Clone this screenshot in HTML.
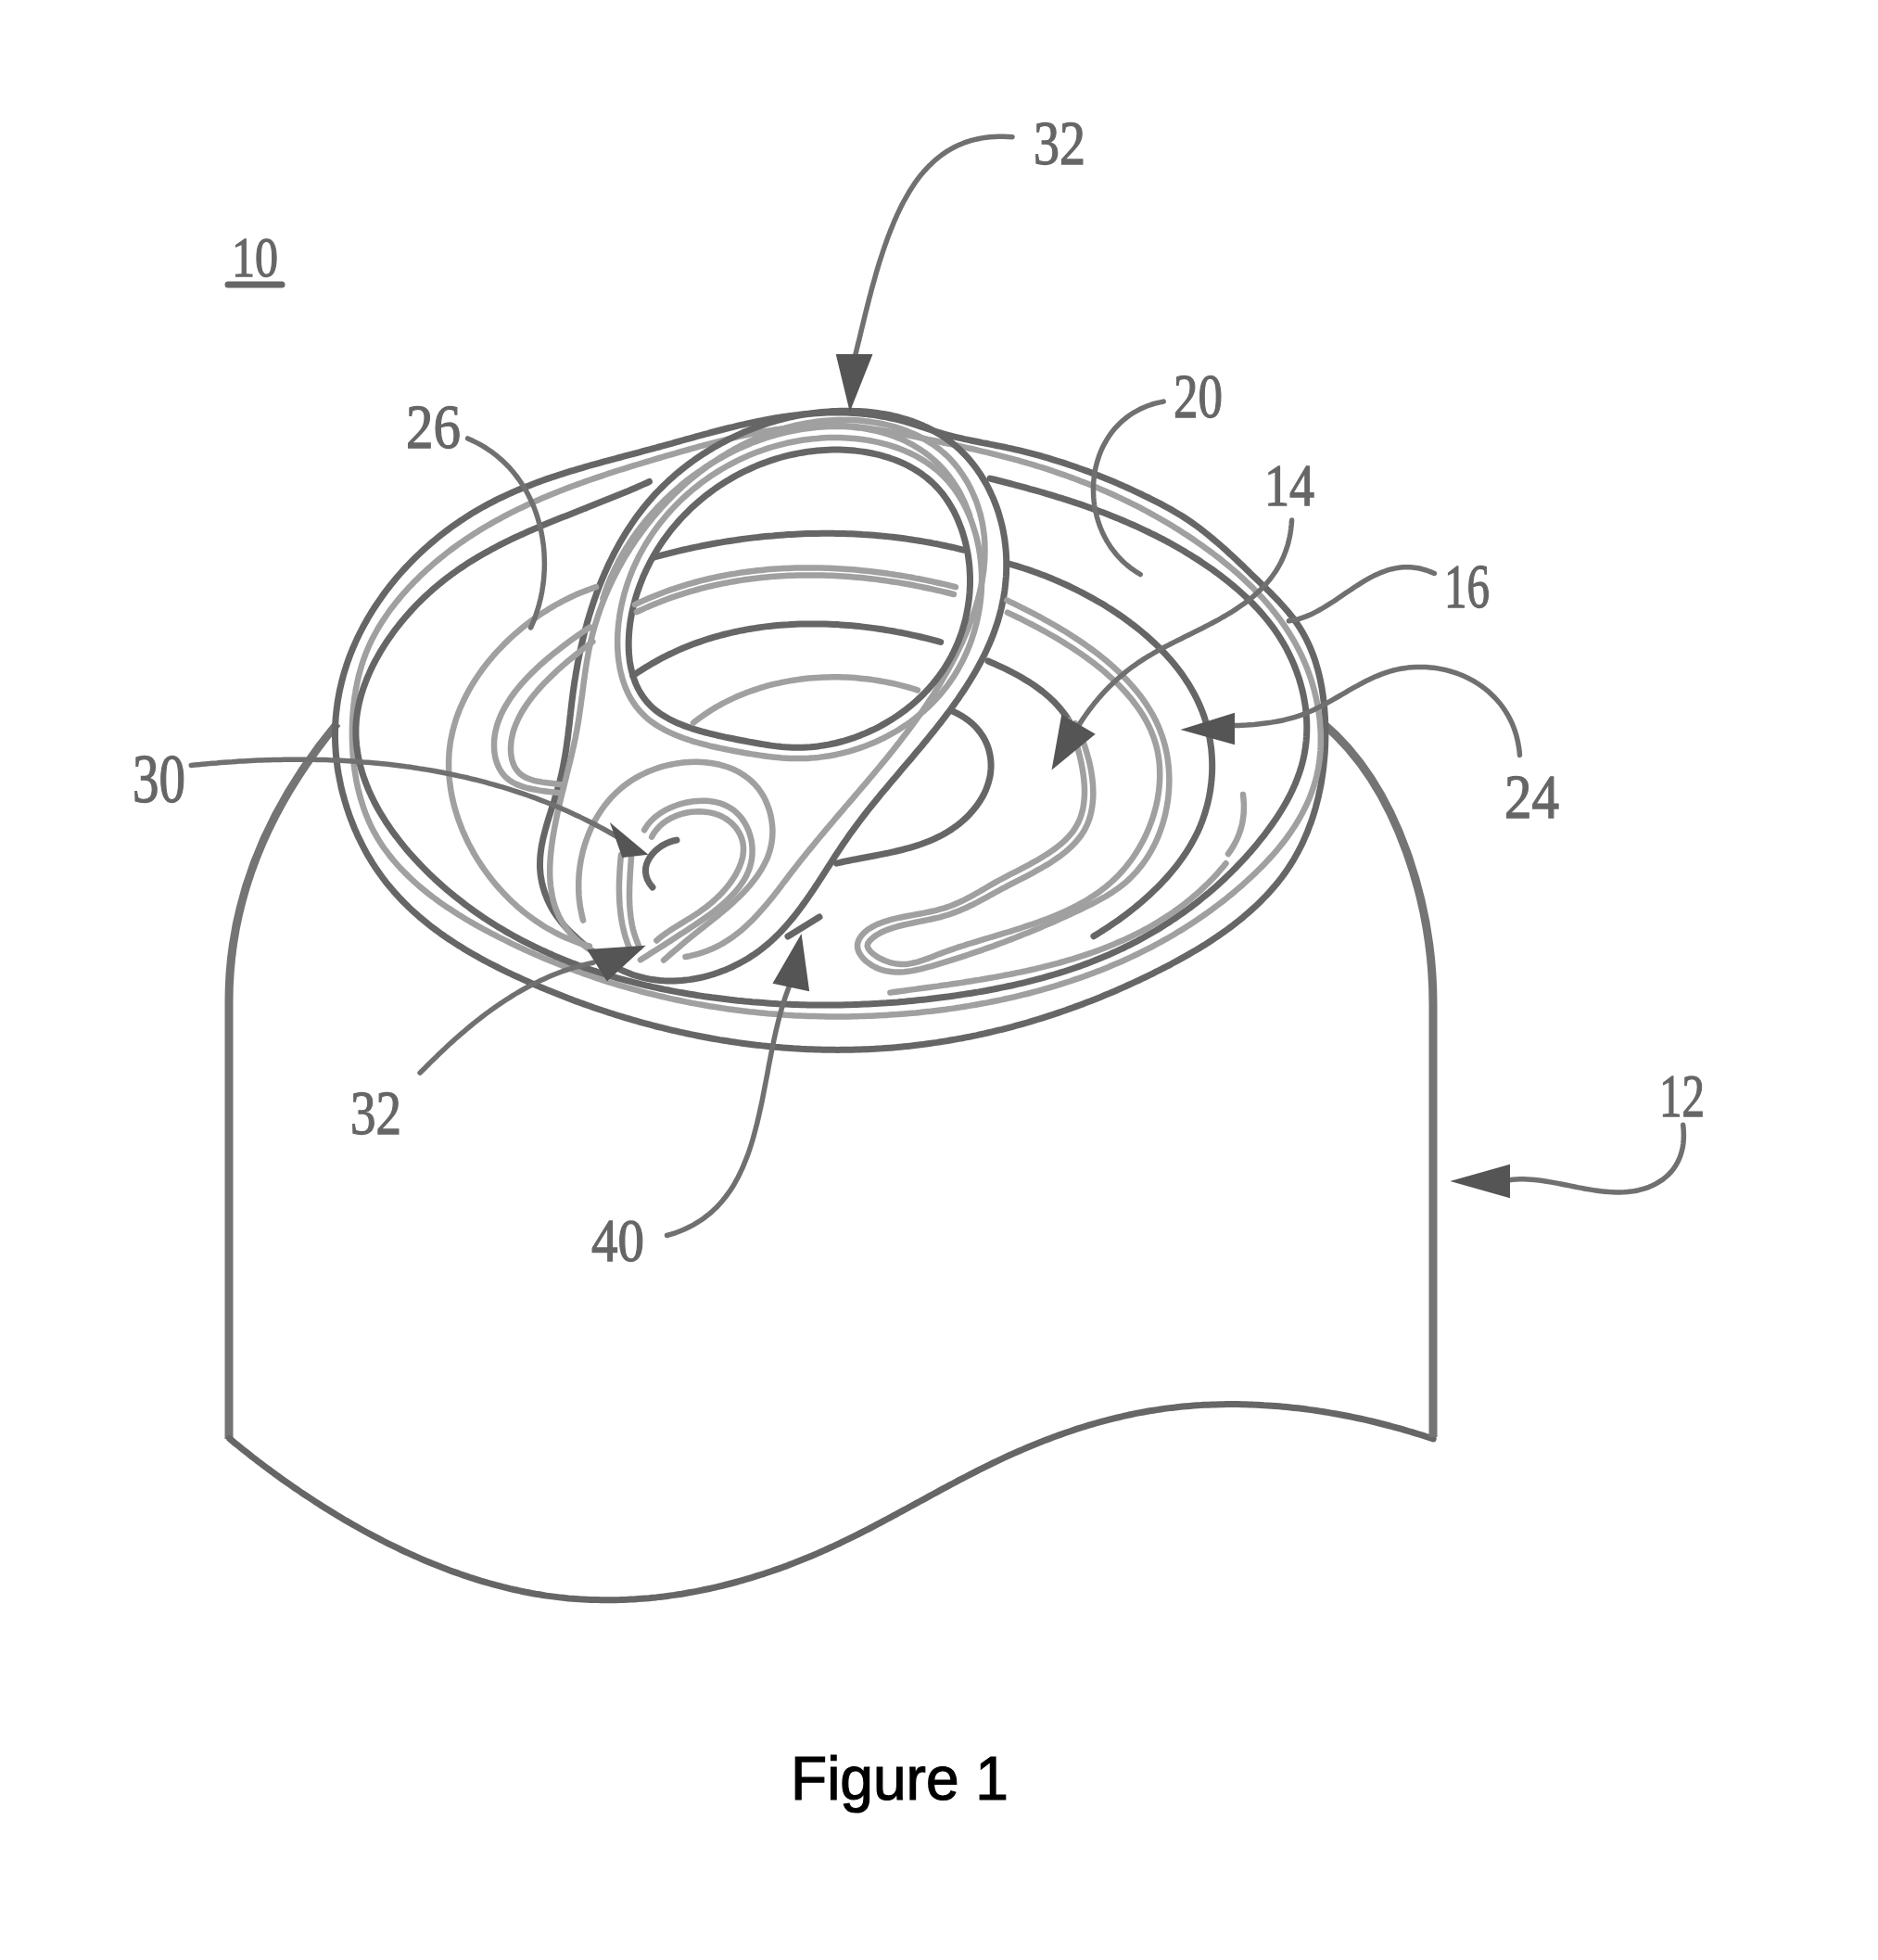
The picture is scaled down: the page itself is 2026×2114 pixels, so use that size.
<!DOCTYPE html>
<html><head><meta charset="utf-8"><style>
html,body{margin:0;padding:0;background:#fff;width:2026px;height:2114px;overflow:hidden}
svg{display:block;position:absolute;left:0;top:0}
.dk{fill:none;stroke:#666666;stroke-width:7;stroke-linecap:round;stroke-linejoin:round}
.lt{fill:none;stroke:#a0a0a0;stroke-width:6.5;stroke-linecap:round;stroke-linejoin:round}
.bd{fill:none;stroke:#747474;stroke-width:9;stroke-linecap:butt;stroke-linejoin:miter}
.ld{fill:none;stroke:#707070;stroke-width:5.5;stroke-linecap:round;stroke-linejoin:round}
.ar{fill:#555555;stroke:#555555;stroke-width:2}
.lb{font-family:"Liberation Serif",serif;font-weight:normal;fill:#666666;stroke:#666666;stroke-width:1.3}
.fig{position:absolute;font-family:"Liberation Sans",sans-serif;color:#000;white-space:nowrap}
</style></head><body>
<svg width="2026" height="2114" viewBox="0 0 2026 2114">
<path class="bd" d="M364,780 C296,862 247,960 247,1080 L247,1552"/>
<path class="dk" d="M247.8,1551.8 L250.8,1554.3 L253.7,1556.7 L256.7,1559.1 L259.7,1561.5 L262.8,1563.9 L265.8,1566.3 L268.9,1568.8 L271.9,1571.2 L275.0,1573.5 L278.1,1575.9 L281.2,1578.3 L284.4,1580.7 L287.5,1583.0 L290.7,1585.4 L293.9,1587.8 L297.1,1590.1 L300.3,1592.4 L303.6,1594.8 L306.8,1597.1 L310.1,1599.4 L313.4,1601.7 L316.6,1604.0 L320.0,1606.2 L323.3,1608.5 L326.6,1610.8 L330.0,1613.0 L333.3,1615.2 L336.7,1617.4 L340.1,1619.7 L343.5,1621.8 L346.9,1624.0 L350.4,1626.2 L353.8,1628.3 L357.3,1630.5 L360.7,1632.6 L364.2,1634.7 L367.7,1636.8 L371.2,1638.9 L374.7,1640.9 L378.3,1643.0 L381.8,1645.0 L385.4,1647.0 L388.9,1649.0 L392.5,1651.0 L396.1,1653.0 L399.7,1654.9 L403.3,1656.8 L406.9,1658.7 L410.6,1660.6 L414.2,1662.5 L417.8,1664.3 L421.5,1666.1 L425.2,1667.9 L428.9,1669.7 L432.5,1671.5 L436.2,1673.2 L439.9,1674.9 L443.7,1676.6 L447.4,1678.3 L451.1,1679.9 L454.9,1681.6 L458.6,1683.2 L462.4,1684.7 L466.1,1686.3 L469.9,1687.8 L473.7,1689.3 L477.5,1690.8 L481.3,1692.2 L485.1,1693.7 L488.9,1695.1 L492.7,1696.4 L496.5,1697.8 L500.3,1699.1 L504.2,1700.4 L508.0,1701.7 L511.8,1702.9 L515.7,1704.1 L519.6,1705.3 L523.4,1706.4 L527.3,1707.5 L531.2,1708.6 L535.0,1709.7 L538.9,1710.7 L542.8,1711.7 L546.7,1712.6 L550.6,1713.6 L554.5,1714.5 L558.4,1715.3 L562.3,1716.2 L566.2,1717.0 L570.1,1717.7 L574.0,1718.5 L577.9,1719.2 L581.9,1719.8 L585.8,1720.5 L589.7,1721.1 L593.7,1721.6 L597.6,1722.1 L601.5,1722.6 L605.5,1723.1 L609.4,1723.5 L613.3,1723.9 L617.3,1724.2 L621.2,1724.5 L625.2,1724.8 L629.1,1725.0 L633.1,1725.2 L637.0,1725.4 L640.9,1725.5 L644.9,1725.6 L648.8,1725.7 L652.8,1725.8 L656.7,1725.8 L660.7,1725.7 L664.6,1725.7 L668.6,1725.6 L672.5,1725.4 L676.5,1725.3 L680.4,1725.1 L684.4,1724.9 L688.3,1724.6 L692.3,1724.3 L696.2,1724.0 L700.1,1723.7 L704.1,1723.3 L708.0,1722.9 L711.9,1722.4 L715.9,1722.0 L719.8,1721.5 L723.7,1720.9 L727.7,1720.4 L731.6,1719.8 L735.5,1719.2 L739.4,1718.5 L743.3,1717.8 L747.2,1717.1 L751.1,1716.4 L755.0,1715.6 L758.9,1714.8 L762.8,1714.0 L766.7,1713.2 L770.6,1712.3 L774.5,1711.4 L778.4,1710.5 L782.2,1709.5 L786.1,1708.5 L790.0,1707.5 L793.8,1706.5 L797.7,1705.4 L801.5,1704.3 L805.4,1703.2 L809.2,1702.1 L813.1,1700.9 L816.9,1699.7 L820.7,1698.5 L824.5,1697.3 L828.3,1696.0 L832.1,1694.7 L835.9,1693.4 L839.7,1692.1 L843.5,1690.7 L847.3,1689.4 L851.0,1687.9 L854.8,1686.5 L858.5,1685.1 L862.3,1683.6 L866.0,1682.1 L869.7,1680.6 L873.5,1679.0 L877.2,1677.5 L880.9,1675.9 L884.6,1674.3 L888.3,1672.6 L891.9,1671.0 L895.6,1669.3 L899.3,1667.6 L902.9,1665.9 L906.6,1664.2 L910.2,1662.4 L913.8,1660.7 L917.5,1658.9 L921.1,1657.1 L924.7,1655.3 L928.3,1653.5 L931.9,1651.7 L935.5,1649.8 L939.1,1648.0 L942.7,1646.1 L946.3,1644.2 L949.8,1642.3 L953.4,1640.4 L957.0,1638.5 L960.6,1636.6 L964.1,1634.7 L967.7,1632.8 L971.2,1630.8 L974.8,1628.9 L978.4,1627.0 L981.9,1625.0 L985.5,1623.1 L989.0,1621.2 L992.6,1619.2 L996.1,1617.3 L999.7,1615.4 L1003.2,1613.4 L1006.8,1611.5 L1010.3,1609.6 L1013.9,1607.6 L1017.4,1605.7 L1021.0,1603.8 L1024.5,1601.9 L1028.1,1600.0 L1031.7,1598.1 L1035.2,1596.2 L1038.8,1594.4 L1042.4,1592.5 L1046.0,1590.6 L1049.5,1588.8 L1053.1,1587.0 L1056.7,1585.2 L1060.3,1583.4 L1063.9,1581.6 L1067.5,1579.8 L1071.1,1578.0 L1074.7,1576.3 L1078.4,1574.6 L1082.0,1572.9 L1085.6,1571.2 L1089.3,1569.5 L1092.9,1567.9 L1096.6,1566.3 L1100.2,1564.7 L1103.9,1563.1 L1107.6,1561.5 L1111.2,1560.0 L1114.9,1558.5 L1118.6,1557.0 L1122.3,1555.5 L1126.0,1554.0 L1129.8,1552.6 L1133.5,1551.2 L1137.2,1549.8 L1140.9,1548.4 L1144.7,1547.1 L1148.4,1545.8 L1152.2,1544.5 L1155.9,1543.2 L1159.7,1541.9 L1163.5,1540.7 L1167.3,1539.5 L1171.0,1538.3 L1174.8,1537.2 L1178.6,1536.1 L1182.4,1535.0 L1186.3,1533.9 L1190.1,1532.9 L1193.9,1531.9 L1197.7,1530.9 L1201.6,1529.9 L1205.4,1529.0 L1209.3,1528.1 L1213.1,1527.2 L1217.0,1526.3 L1220.9,1525.5 L1224.7,1524.7 L1228.6,1523.9 L1232.5,1523.2 L1236.4,1522.5 L1240.3,1521.8 L1244.2,1521.2 L1248.2,1520.6 L1252.1,1520.0 L1256.0,1519.4 L1259.9,1518.9 L1263.9,1518.4 L1267.8,1518.0 L1271.8,1517.5 L1275.8,1517.1 L1279.7,1516.7 L1283.7,1516.4 L1287.7,1516.1 L1291.6,1515.8 L1295.6,1515.6 L1299.6,1515.3 L1303.6,1515.2 L1307.6,1515.0 L1311.6,1514.9 L1315.6,1514.7 L1319.6,1514.7 L1323.6,1514.6 L1327.6,1514.6 L1331.7,1514.6 L1335.7,1514.6 L1339.7,1514.7 L1343.7,1514.8 L1347.7,1514.9 L1351.8,1515.1 L1355.8,1515.2 L1359.8,1515.4 L1363.8,1515.7 L1367.9,1515.9 L1371.9,1516.2 L1375.9,1516.5 L1379.9,1516.8 L1384.0,1517.2 L1388.0,1517.6 L1392.0,1518.0 L1396.1,1518.4 L1400.1,1518.8 L1404.1,1519.3 L1408.1,1519.8 L1412.1,1520.4 L1416.2,1520.9 L1420.2,1521.5 L1424.2,1522.1 L1428.2,1522.7 L1432.2,1523.4 L1436.2,1524.1 L1440.2,1524.8 L1444.2,1525.5 L1448.2,1526.2 L1452.2,1527.0 L1456.2,1527.8 L1460.2,1528.6 L1464.2,1529.5 L1468.1,1530.3 L1472.1,1531.2 L1476.1,1532.1 L1480.0,1533.0 L1484.0,1534.0 L1487.9,1535.0 L1491.8,1536.0 L1495.8,1537.0 L1499.7,1538.0 L1503.6,1539.1 L1507.5,1540.1 L1511.4,1541.2 L1515.3,1542.3 L1519.2,1543.5 L1523.1,1544.6 L1527.0,1545.8 L1530.9,1547.0 L1534.7,1548.2 L1538.6,1549.5 L1542.4,1550.7 L1546.2,1552.0"/>
<path class="bd" d="M1427,780 C1510,850 1546,980 1546,1083 L1546,1550"/>
<path class="dk" d="M361.7,782.9 L361.6,786.9 L361.5,790.9 L361.5,795.0 L361.6,799.0 L361.7,803.0 L362.0,807.1 L362.2,811.1 L362.6,815.2 L363.0,819.2 L363.5,823.2 L364.0,827.3 L364.6,831.3 L365.3,835.4 L366.1,839.4 L366.9,843.4 L367.7,847.4 L368.6,851.4 L369.6,855.4 L370.7,859.3 L371.8,863.3 L373.0,867.2 L374.2,871.1 L375.5,875.0 L376.8,878.9 L378.2,882.7 L379.7,886.6 L381.2,890.4 L382.7,894.1 L384.4,897.9 L386.0,901.6 L387.8,905.3 L389.6,908.9 L391.4,912.5 L393.3,916.1 L395.2,919.7 L397.2,923.2 L399.3,926.6 L401.4,930.1 L403.5,933.4 L405.7,936.8 L408.0,940.1 L410.3,943.3 L412.6,946.5 L415.0,949.7 L417.4,952.8 L419.9,955.8 L422.5,958.8 L425.0,961.8 L427.6,964.7 L430.3,967.6 L433.0,970.5 L435.7,973.3 L438.5,976.0 L441.3,978.8 L444.2,981.5 L447.1,984.1 L450.0,986.7 L452.9,989.3 L455.9,991.8 L459.0,994.3 L462.0,996.8 L465.1,999.2 L468.3,1001.6 L471.4,1003.9 L474.6,1006.3 L477.8,1008.5 L481.1,1010.8 L484.3,1013.0 L487.6,1015.2 L491.0,1017.4 L494.3,1019.5 L497.7,1021.6 L501.1,1023.7 L504.5,1025.7 L507.9,1027.8 L511.4,1029.8 L514.9,1031.7 L518.4,1033.7 L521.9,1035.6 L525.5,1037.5 L529.0,1039.4 L532.6,1041.2 L536.2,1043.0 L539.8,1044.8 L543.4,1046.6 L547.0,1048.4 L550.7,1050.1 L554.3,1051.8 L558.0,1053.5 L561.6,1055.2 L565.3,1056.9 L569.0,1058.5 L572.7,1060.2 L576.4,1061.8 L580.1,1063.4 L583.9,1065.0 L587.6,1066.5 L591.3,1068.1 L595.0,1069.6 L598.8,1071.1 L602.5,1072.6 L606.3,1074.1 L610.1,1075.6 L613.8,1077.0 L617.6,1078.4 L621.4,1079.9 L625.2,1081.3 L629.0,1082.6 L632.8,1084.0 L636.6,1085.3 L640.4,1086.7 L644.2,1088.0 L648.1,1089.3 L651.9,1090.5 L655.7,1091.8 L659.6,1093.0 L663.4,1094.3 L667.3,1095.5 L671.1,1096.6 L675.0,1097.8 L678.8,1098.9 L682.7,1100.1 L686.6,1101.2 L690.5,1102.3 L694.3,1103.4 L698.2,1104.4 L702.1,1105.4 L706.0,1106.5 L709.9,1107.5 L713.8,1108.4 L717.7,1109.4 L721.6,1110.4 L725.5,1111.3 L729.5,1112.2 L733.4,1113.1 L737.3,1113.9 L741.2,1114.8 L745.2,1115.6 L749.1,1116.4 L753.0,1117.2 L757.0,1118.0 L760.9,1118.7 L764.9,1119.5 L768.8,1120.2 L772.7,1120.9 L776.7,1121.6 L780.7,1122.2 L784.6,1122.8 L788.6,1123.5 L792.5,1124.0 L796.5,1124.6 L800.5,1125.2 L804.4,1125.7 L808.4,1126.2 L812.4,1126.7 L816.3,1127.2 L820.3,1127.6 L824.3,1128.1 L828.2,1128.5 L832.2,1128.9 L836.2,1129.3 L840.2,1129.6 L844.1,1129.9 L848.1,1130.2 L852.1,1130.5 L856.1,1130.8 L860.1,1131.0 L864.0,1131.3 L868.0,1131.5 L872.0,1131.7 L876.0,1131.8 L880.0,1132.0 L883.9,1132.1 L887.9,1132.2 L891.9,1132.3 L895.9,1132.3 L899.9,1132.3 L903.8,1132.4 L907.8,1132.3 L911.8,1132.3 L915.8,1132.3 L919.7,1132.2 L923.7,1132.1 L927.7,1132.0 L931.7,1131.8 L935.6,1131.7 L939.6,1131.5 L943.6,1131.3 L947.5,1131.0 L951.5,1130.8 L955.5,1130.5 L959.4,1130.2 L963.4,1129.9 L967.3,1129.6 L971.3,1129.2 L975.2,1128.8 L979.2,1128.4 L983.1,1128.0 L987.1,1127.5 L991.0,1127.0 L995.0,1126.6 L998.9,1126.0 L1002.8,1125.5 L1006.8,1124.9 L1010.7,1124.4 L1014.6,1123.8 L1018.6,1123.1 L1022.5,1122.5 L1026.4,1121.8 L1030.3,1121.1 L1034.2,1120.4 L1038.2,1119.7 L1042.1,1118.9 L1046.0,1118.2 L1049.9,1117.4 L1053.8,1116.6 L1057.7,1115.7 L1061.6,1114.9 L1065.4,1114.0 L1069.3,1113.1 L1073.2,1112.2 L1077.1,1111.2 L1081.0,1110.3 L1084.8,1109.3 L1088.7,1108.3 L1092.6,1107.3 L1096.4,1106.2 L1100.3,1105.2 L1104.1,1104.1 L1108.0,1103.0 L1111.8,1101.8 L1115.7,1100.7 L1119.5,1099.5 L1123.3,1098.3 L1127.2,1097.1 L1131.0,1095.9 L1134.8,1094.7 L1138.6,1093.4 L1142.4,1092.1 L1146.3,1090.8 L1150.1,1089.5 L1153.8,1088.1 L1157.6,1086.8 L1161.4,1085.4 L1165.2,1084.0 L1169.0,1082.6 L1172.8,1081.1 L1176.5,1079.7 L1180.3,1078.2 L1184.1,1076.7 L1187.8,1075.2 L1191.6,1073.6 L1195.3,1072.1 L1199.0,1070.5 L1202.8,1068.9 L1206.5,1067.3 L1210.2,1065.6 L1213.9,1064.0 L1217.6,1062.3 L1221.3,1060.6 L1225.0,1058.9 L1228.7,1057.2 L1232.4,1055.4 L1236.1,1053.7 L1239.8,1051.9 L1243.5,1050.1 L1247.1,1048.2 L1250.8,1046.4 L1254.4,1044.5 L1258.1,1042.7 L1261.7,1040.8 L1265.3,1038.8 L1268.9,1036.9 L1272.5,1034.9 L1276.1,1032.9 L1279.7,1030.9 L1283.2,1028.9 L1286.7,1026.8 L1290.3,1024.8 L1293.7,1022.7 L1297.2,1020.5 L1300.7,1018.4 L1304.1,1016.2 L1307.5,1014.0 L1310.9,1011.7 L1314.2,1009.5 L1317.5,1007.2 L1320.8,1004.8 L1324.1,1002.5 L1327.3,1000.1 L1330.5,997.7 L1333.6,995.2 L1336.8,992.8 L1339.9,990.3 L1342.9,987.7 L1345.9,985.1 L1348.9,982.5 L1351.8,979.9 L1354.7,977.2 L1357.6,974.5 L1360.4,971.7 L1363.1,968.9 L1365.9,966.1 L1368.5,963.3 L1371.1,960.4 L1373.7,957.4 L1376.2,954.4 L1378.7,951.4 L1381.1,948.4 L1383.5,945.3 L1385.8,942.1 L1388.0,939.0 L1390.2,935.7 L1392.3,932.5 L1394.4,929.2 L1396.4,925.8 L1398.3,922.4 L1400.2,919.0 L1402.0,915.5 L1403.8,912.0 L1405.5,908.4 L1407.1,904.8 L1408.7,901.2 L1410.3,897.5 L1411.7,893.8 L1413.1,890.1 L1414.5,886.4 L1415.8,882.6 L1417.0,878.8 L1418.2,874.9 L1419.3,871.1 L1420.3,867.2 L1421.3,863.3 L1422.3,859.3 L1423.1,855.4 L1424.0,851.4 L1424.8,847.4 L1425.5,843.4 L1426.1,839.4 L1426.7,835.4 L1427.3,831.3 L1427.8,827.3 L1428.2,823.2 L1428.6,819.1 L1429.0,815.1 L1429.3,811.0 L1429.5,806.9 L1429.7,802.8 L1429.8,798.7 L1429.9,794.6 L1429.9,790.5 L1429.9,786.4 L1429.8,782.3 L1429.6,778.2 L1429.5,774.2 L1429.2,770.1 L1428.9,766.0 L1428.6,762.0 L1428.2,758.0 L1427.7,753.9 L1427.2,749.9 L1426.6,746.0 L1426.0,742.0 L1425.2,738.0 L1424.5,734.1 L1423.6,730.2 L1422.7,726.4 L1421.7,722.5 L1420.6,718.7 L1419.5,714.9 L1418.3,711.2 L1417.0,707.5 L1415.6,703.8 L1414.1,700.2 L1412.6,696.6 L1410.9,693.0 L1409.2,689.5 L1407.4,686.0 L1405.5,682.6 L1403.5,679.2 L1401.4,675.9 L1399.3,672.6 L1397.0,669.4 L1394.6,666.2 L1392.2,663.1 L1389.7,660.0 L1387.1,657.0 L1384.4,654.0 L1381.7,651.0 L1379.0,648.0 L1376.2,645.1 L1373.3,642.2 L1370.5,639.3 L1367.6,636.5 L1364.6,633.6 L1361.7,630.8 L1358.8,627.9 L1355.9,625.1 L1352.9,622.2 L1350.0,619.4 L1347.1,616.6 L1344.2,613.8 L1341.3,610.9 L1338.3,608.1 L1335.4,605.4 L1332.5,602.6 L1329.5,599.8 L1326.5,597.1 L1323.6,594.4 L1320.6,591.7 L1317.6,589.0 L1314.6,586.4 L1311.6,583.8 L1308.5,581.2 L1305.4,578.6 L1302.3,576.1 L1299.2,573.6 L1296.1,571.2 L1292.9,568.8 L1289.7,566.5 L1286.5,564.2 L1283.2,561.9 L1280.0,559.7 L1276.6,557.5 L1273.3,555.4 L1269.9,553.4 L1266.5,551.4 L1263.0,549.4 L1259.5,547.5 L1256.0,545.6 L1252.5,543.7 L1249.0,541.9 L1245.4,540.1 L1241.9,538.3 L1238.3,536.5 L1234.7,534.8 L1231.1,533.0 L1227.5,531.3 L1223.8,529.6 L1220.2,527.9 L1216.6,526.3 L1212.9,524.6 L1209.2,523.0 L1205.5,521.4 L1201.9,519.8 L1198.2,518.3 L1194.4,516.7 L1190.7,515.2 L1187.0,513.7 L1183.3,512.2 L1179.5,510.8 L1175.8,509.3 L1172.0,507.9 L1168.2,506.5 L1164.5,505.2 L1160.7,503.8 L1156.9,502.5 L1153.1,501.2 L1149.3,499.9 L1145.4,498.7 L1141.6,497.5 L1137.8,496.3 L1133.9,495.1 L1130.1,493.9 L1126.3,492.8 L1122.4,491.7 L1118.5,490.6 L1114.7,489.6 L1110.8,488.6 L1106.9,487.6 L1103.0,486.6 L1099.1,485.7 L1095.2,484.8 L1091.3,483.9 L1087.4,483.1 L1083.5,482.2 L1079.6,481.4 L1075.7,480.7 L1071.8,479.9 L1067.9,479.1 L1063.9,478.3 L1060.0,477.6 L1056.1,476.8 L1052.2,476.0 L1048.3,475.2 L1044.4,474.4 L1040.5,473.6 L1036.6,472.7 L1032.8,471.8 L1028.9,470.9 L1025.0,469.9 L1021.2,468.9 L1017.4,467.8 L1013.5,466.7 L1009.7,465.5 L1005.9,464.3 L1002.1,463.0 L998.3,461.7 L994.5,460.5 L990.7,459.2 L986.9,458.0 L983.1,456.7 L979.3,455.6 L975.5,454.5 L971.6,453.4 L967.8,452.4 L963.9,451.5 L960.0,450.7 L956.1,449.9 L952.2,449.2 L948.3,448.5 L944.3,447.9 L940.4,447.3 L936.4,446.9 L932.5,446.4 L928.5,446.1 L924.5,445.8 L920.5,445.5 L916.5,445.3 L912.6,445.1 L908.6,445.0 L904.6,445.0 L900.6,445.0 L896.6,445.0 L892.6,445.1 L888.6,445.3 L884.6,445.5 L880.6,445.7 L876.6,446.0 L872.6,446.3 L868.7,446.6 L864.7,447.0 L860.7,447.5 L856.8,447.9 L852.8,448.4 L848.9,449.0 L845.0,449.5 L841.0,450.2 L837.1,450.8 L833.2,451.5 L829.3,452.2 L825.4,452.9 L821.5,453.7 L817.6,454.4 L813.7,455.3 L809.8,456.1 L805.9,456.9 L802.0,457.8 L798.1,458.7 L794.3,459.6 L790.4,460.6 L786.5,461.5 L782.6,462.5 L778.8,463.5 L774.9,464.5 L771.0,465.5 L767.2,466.5 L763.3,467.6 L759.4,468.6 L755.6,469.7 L751.7,470.7 L747.8,471.8 L744.0,472.9 L740.1,473.9 L736.2,475.0 L732.4,476.1 L728.5,477.2 L724.6,478.3 L720.7,479.3 L716.9,480.4 L713.0,481.5 L709.1,482.5 L705.2,483.6 L701.3,484.7 L697.4,485.7 L693.5,486.7 L689.6,487.8 L685.7,488.8 L681.8,489.9 L677.9,490.9 L674.0,491.9 L670.1,493.0 L666.2,494.0 L662.3,495.1 L658.4,496.1 L654.5,497.2 L650.6,498.2 L646.7,499.3 L642.9,500.4 L639.0,501.4 L635.1,502.5 L631.2,503.7 L627.4,504.8 L623.5,505.9 L619.7,507.1 L615.8,508.2 L612.0,509.4 L608.1,510.6 L604.3,511.8 L600.5,513.1 L596.7,514.3 L592.9,515.6 L589.1,516.9 L585.3,518.3 L581.6,519.6 L577.8,521.0 L574.1,522.4 L570.4,523.9 L566.7,525.3 L563.0,526.8 L559.3,528.3 L555.6,529.9 L551.9,531.5 L548.3,533.1 L544.7,534.8 L541.1,536.5 L537.5,538.2 L533.9,540.0 L530.4,541.8 L526.8,543.7 L523.3,545.6 L519.8,547.5 L516.3,549.5 L512.9,551.5 L509.4,553.6 L506.0,555.7 L502.6,557.9 L499.3,560.1 L495.9,562.3 L492.6,564.6 L489.3,566.9 L486.0,569.2 L482.8,571.6 L479.6,574.1 L476.4,576.6 L473.2,579.1 L470.1,581.6 L467.0,584.2 L463.9,586.8 L460.9,589.5 L457.9,592.2 L454.9,594.9 L451.9,597.7 L449.0,600.5 L446.2,603.3 L443.3,606.2 L440.5,609.1 L437.8,612.0 L435.0,615.0 L432.3,618.0 L429.7,621.0 L427.1,624.1 L424.5,627.2 L422.0,630.3 L419.5,633.5 L417.0,636.6 L414.6,639.9 L412.3,643.1 L410.0,646.4 L407.7,649.7 L405.5,653.0 L403.3,656.3 L401.2,659.7 L399.1,663.1 L397.0,666.5 L395.1,670.0 L393.1,673.5 L391.2,677.0 L389.4,680.5 L387.6,684.0 L385.9,687.6 L384.2,691.2 L382.6,694.8 L381.0,698.4 L379.5,702.1 L378.0,705.8 L376.6,709.5 L375.3,713.2 L374.0,716.9 L372.8,720.7 L371.6,724.4 L370.5,728.2 L369.5,732.0 L368.5,735.9 L367.6,739.7 L366.7,743.6 L365.9,747.4 L365.2,751.3 L364.5,755.2 L363.9,759.1 L363.4,763.1 L362.9,767.0 L362.5,771.0 L362.1,775.0 L361.9,778.9 L361.7,782.9Z"/>
<path class="lt" d="M380.0,782.8 L379.9,786.8 L379.9,790.9 L379.9,795.0 L380.0,799.0 L380.1,803.1 L380.3,807.2 L380.5,811.2 L380.8,815.3 L381.2,819.3 L381.6,823.4 L382.1,827.4 L382.7,831.4 L383.3,835.4 L384.0,839.4 L384.7,843.4 L385.5,847.3 L386.4,851.2 L387.4,855.1 L388.4,859.0 L389.5,862.8 L390.7,866.6 L391.9,870.4 L393.2,874.1 L394.6,877.9 L396.1,881.5 L397.6,885.2 L399.2,888.7 L400.9,892.3 L402.7,895.8 L404.6,899.2 L406.5,902.6 L408.5,906.0 L410.6,909.3 L412.8,912.6 L415.1,915.8 L417.4,918.9 L419.8,922.1 L422.2,925.1 L424.7,928.2 L427.3,931.1 L429.9,934.1 L432.6,937.0 L435.3,939.8 L438.1,942.6 L440.9,945.4 L443.8,948.1 L446.7,950.8 L449.6,953.4 L452.6,956.1 L455.7,958.6 L458.8,961.1 L461.9,963.6 L465.1,966.1 L468.3,968.5 L471.5,970.9 L474.8,973.3 L478.1,975.6 L481.4,977.9 L484.8,980.1 L488.1,982.3 L491.6,984.5 L495.0,986.7 L498.5,988.8 L501.9,990.9 L505.4,993.0 L509.0,995.1 L512.5,997.1 L516.1,999.1 L519.7,1001.1 L523.2,1003.0 L526.9,1004.9 L530.5,1006.8 L534.1,1008.7 L537.7,1010.6 L541.4,1012.4 L545.0,1014.2 L548.7,1016.0 L552.3,1017.8 L556.0,1019.6 L559.6,1021.3 L563.3,1023.0 L567.0,1024.7 L570.7,1026.4 L574.4,1028.0 L578.1,1029.7 L581.8,1031.3 L585.5,1032.9 L589.2,1034.4 L592.9,1036.0 L596.7,1037.5 L600.4,1039.0 L604.1,1040.5 L607.9,1042.0 L611.6,1043.4 L615.4,1044.9 L619.1,1046.3 L622.9,1047.7 L626.7,1049.0 L630.4,1050.4 L634.2,1051.7 L638.0,1053.0 L641.8,1054.3 L645.6,1055.6 L649.4,1056.8 L653.2,1058.1 L657.0,1059.3 L660.8,1060.5 L664.6,1061.6 L668.4,1062.8 L672.3,1063.9 L676.1,1065.0 L679.9,1066.1 L683.8,1067.2 L687.6,1068.2 L691.5,1069.3 L695.3,1070.3 L699.2,1071.3 L703.0,1072.2 L706.9,1073.2 L710.8,1074.1 L714.6,1075.0 L718.5,1075.9 L722.4,1076.8 L726.3,1077.7 L730.2,1078.5 L734.0,1079.3 L737.9,1080.1 L741.8,1080.9 L745.7,1081.7 L749.6,1082.4 L753.5,1083.1 L757.5,1083.8 L761.4,1084.5 L765.3,1085.2 L769.2,1085.8 L773.1,1086.4 L777.1,1087.0 L781.0,1087.6 L784.9,1088.2 L788.9,1088.7 L792.8,1089.3 L796.7,1089.8 L800.7,1090.3 L804.6,1090.7 L808.6,1091.2 L812.5,1091.6 L816.5,1092.0 L820.4,1092.4 L824.4,1092.8 L828.4,1093.2 L832.3,1093.5 L836.3,1093.8 L840.3,1094.1 L844.2,1094.4 L848.2,1094.7 L852.2,1094.9 L856.2,1095.2 L860.1,1095.4 L864.1,1095.6 L868.1,1095.7 L872.1,1095.9 L876.1,1096.0 L880.1,1096.1 L884.1,1096.2 L888.1,1096.3 L892.0,1096.4 L896.0,1096.4 L900.0,1096.4 L904.0,1096.4 L908.0,1096.4 L912.0,1096.4 L916.0,1096.4 L920.0,1096.3 L924.0,1096.2 L928.1,1096.1 L932.1,1096.0 L936.1,1095.8 L940.1,1095.7 L944.1,1095.5 L948.1,1095.3 L952.1,1095.1 L956.1,1094.9 L960.1,1094.6 L964.1,1094.3 L968.2,1094.1 L972.2,1093.7 L976.2,1093.4 L980.2,1093.1 L984.2,1092.7 L988.2,1092.4 L992.3,1092.0 L996.3,1091.5 L1000.3,1091.1 L1004.3,1090.7 L1008.3,1090.2 L1012.3,1089.7 L1016.3,1089.2 L1020.3,1088.7 L1024.3,1088.1 L1028.3,1087.6 L1032.3,1087.0 L1036.3,1086.4 L1040.3,1085.7 L1044.3,1085.1 L1048.3,1084.4 L1052.3,1083.7 L1056.3,1083.0 L1060.2,1082.3 L1064.2,1081.6 L1068.2,1080.8 L1072.2,1080.0 L1076.1,1079.2 L1080.1,1078.4 L1084.0,1077.5 L1088.0,1076.6 L1091.9,1075.8 L1095.8,1074.8 L1099.8,1073.9 L1103.7,1072.9 L1107.6,1072.0 L1111.5,1071.0 L1115.4,1069.9 L1119.3,1068.9 L1123.2,1067.8 L1127.1,1066.7 L1130.9,1065.6 L1134.8,1064.5 L1138.6,1063.3 L1142.5,1062.2 L1146.3,1060.9 L1150.2,1059.7 L1154.0,1058.5 L1157.8,1057.2 L1161.6,1055.9 L1165.4,1054.6 L1169.2,1053.2 L1172.9,1051.9 L1176.7,1050.5 L1180.5,1049.1 L1184.2,1047.6 L1187.9,1046.2 L1191.6,1044.7 L1195.4,1043.2 L1199.1,1041.6 L1202.7,1040.1 L1206.4,1038.5 L1210.1,1036.9 L1213.7,1035.3 L1217.4,1033.6 L1221.0,1031.9 L1224.6,1030.2 L1228.2,1028.5 L1231.8,1026.7 L1235.4,1024.9 L1238.9,1023.1 L1242.5,1021.3 L1246.0,1019.4 L1249.5,1017.5 L1253.0,1015.6 L1256.5,1013.7 L1260.0,1011.7 L1263.4,1009.7 L1266.9,1007.7 L1270.3,1005.6 L1273.7,1003.6 L1277.1,1001.5 L1280.5,999.3 L1283.8,997.2 L1287.2,995.0 L1290.5,992.8 L1293.8,990.5 L1297.1,988.3 L1300.4,986.0 L1303.7,983.7 L1306.9,981.3 L1310.1,978.9 L1313.3,976.5 L1316.5,974.1 L1319.7,971.6 L1322.8,969.2 L1326.0,966.6 L1329.1,964.1 L1332.2,961.5 L1335.2,958.9 L1338.3,956.3 L1341.3,953.6 L1344.3,950.9 L1347.3,948.2 L1350.3,945.4 L1353.2,942.7 L1356.1,939.8 L1359.0,937.0 L1361.9,934.1 L1364.7,931.2 L1367.4,928.3 L1370.2,925.3 L1372.9,922.3 L1375.5,919.3 L1378.1,916.3 L1380.6,913.2 L1383.1,910.1 L1385.6,906.9 L1388.0,903.7 L1390.3,900.5 L1392.6,897.3 L1394.8,894.0 L1397.0,890.7 L1399.1,887.3 L1401.1,884.0 L1403.0,880.5 L1404.9,877.1 L1406.7,873.6 L1408.5,870.1 L1410.1,866.6 L1411.7,863.0 L1413.2,859.4 L1414.6,855.7 L1415.9,852.1 L1417.2,848.4 L1418.3,844.6 L1419.4,840.8 L1420.4,837.0 L1421.2,833.2 L1422.0,829.3 L1422.7,825.4 L1423.3,821.4 L1423.8,817.5 L1424.1,813.5 L1424.5,809.5 L1424.7,805.4 L1424.8,801.4 L1424.8,797.3 L1424.8,793.3 L1424.7,789.2 L1424.4,785.1 L1424.1,781.0 L1423.8,777.0 L1423.3,772.9 L1422.7,768.8 L1422.1,764.7 L1421.4,760.7 L1420.6,756.6 L1419.8,752.6 L1418.8,748.6 L1417.8,744.6 L1416.7,740.7 L1415.6,736.7 L1414.4,732.8 L1413.1,729.0 L1411.7,725.1 L1410.3,721.3 L1408.8,717.6 L1407.2,713.8 L1405.6,710.1 L1403.9,706.5 L1402.1,702.9 L1400.3,699.3 L1398.4,695.8 L1396.5,692.3 L1394.5,688.8 L1392.4,685.4 L1390.3,682.0 L1388.2,678.7 L1386.0,675.4 L1383.7,672.1 L1381.4,668.9 L1379.0,665.7 L1376.6,662.5 L1374.1,659.4 L1371.6,656.3 L1369.1,653.2 L1366.5,650.2 L1363.8,647.2 L1361.2,644.2 L1358.4,641.3 L1355.7,638.3 L1352.9,635.5 L1350.1,632.6 L1347.2,629.8 L1344.3,627.1 L1341.4,624.3 L1338.4,621.6 L1335.4,618.9 L1332.4,616.3 L1329.3,613.6 L1326.2,611.0 L1323.1,608.5 L1320.0,605.9 L1316.9,603.4 L1313.7,600.9 L1310.5,598.5 L1307.3,596.0 L1304.0,593.6 L1300.8,591.3 L1297.5,588.9 L1294.2,586.6 L1290.9,584.3 L1287.6,582.0 L1284.3,579.8 L1281.0,577.5 L1277.6,575.4 L1274.2,573.2 L1270.8,571.0 L1267.4,568.9 L1264.0,566.8 L1260.6,564.8 L1257.1,562.7 L1253.7,560.7 L1250.2,558.7 L1246.7,556.7 L1243.2,554.8 L1239.7,552.9 L1236.2,551.0 L1232.7,549.1 L1229.1,547.2 L1225.6,545.4 L1222.0,543.6 L1218.4,541.8 L1214.8,540.1 L1211.2,538.4 L1207.6,536.6 L1204.0,535.0 L1200.3,533.3 L1196.7,531.7 L1193.0,530.0 L1189.3,528.5 L1185.7,526.9 L1182.0,525.3 L1178.3,523.8 L1174.6,522.3 L1170.8,520.8 L1167.1,519.4 L1163.4,517.9 L1159.6,516.5 L1155.9,515.1 L1152.1,513.7 L1148.4,512.4 L1144.6,511.1 L1140.8,509.8 L1137.0,508.5 L1133.2,507.2 L1129.4,505.9 L1125.6,504.7 L1121.7,503.5 L1117.9,502.3 L1114.1,501.2 L1110.2,500.0 L1106.4,498.9 L1102.5,497.8 L1098.7,496.7 L1094.8,495.7 L1090.9,494.6 L1087.1,493.6 L1083.2,492.6 L1079.3,491.6 L1075.4,490.6 L1071.5,489.6 L1067.6,488.6 L1063.7,487.7 L1059.8,486.8 L1055.9,485.9 L1052.0,484.9 L1048.0,484.0 L1044.1,483.2 L1040.2,482.3 L1036.3,481.4 L1032.4,480.5 L1028.4,479.7 L1024.5,478.8 L1020.6,478.0 L1016.6,477.2 L1012.7,476.3 L1008.8,475.5 L1004.8,474.7 L1000.9,473.9 L997.0,473.0 L993.0,472.2 L989.1,471.4 L985.2,470.6 L981.2,469.8 L977.3,469.0 L973.4,468.2 L969.4,467.4 L965.5,466.6 L961.6,465.9 L957.6,465.2 L953.7,464.5 L949.8,463.8 L945.9,463.2 L941.9,462.6 L938.0,462.0 L934.1,461.5 L930.1,461.0 L926.2,460.5 L922.3,460.1 L918.4,459.8 L914.4,459.5 L910.5,459.3 L906.6,459.1 L902.7,459.0 L898.8,458.9 L894.8,458.8 L890.9,458.9 L887.0,458.9 L883.1,459.0 L879.2,459.2 L875.2,459.4 L871.3,459.6 L867.4,459.9 L863.5,460.2 L859.6,460.6 L855.7,461.0 L851.7,461.4 L847.8,461.9 L843.9,462.4 L840.0,462.9 L836.1,463.5 L832.2,464.1 L828.3,464.8 L824.3,465.4 L820.4,466.2 L816.5,466.9 L812.6,467.6 L808.7,468.4 L804.8,469.2 L800.9,470.1 L797.0,470.9 L793.1,471.8 L789.2,472.7 L785.2,473.7 L781.3,474.6 L777.4,475.6 L773.5,476.6 L769.6,477.6 L765.7,478.6 L761.8,479.6 L757.9,480.7 L754.0,481.7 L750.1,482.8 L746.2,483.9 L742.3,485.0 L738.4,486.1 L734.5,487.2 L730.6,488.3 L726.7,489.5 L722.8,490.6 L718.9,491.7 L715.0,492.9 L711.1,494.0 L707.2,495.1 L703.3,496.3 L699.4,497.5 L695.5,498.6 L691.6,499.8 L687.7,501.0 L683.8,502.2 L679.9,503.4 L676.1,504.6 L672.2,505.8 L668.3,507.0 L664.5,508.2 L660.6,509.5 L656.8,510.7 L652.9,512.0 L649.1,513.3 L645.2,514.6 L641.4,515.9 L637.6,517.2 L633.8,518.5 L630.0,519.9 L626.2,521.2 L622.4,522.6 L618.6,524.0 L614.9,525.4 L611.1,526.8 L607.4,528.3 L603.6,529.7 L599.9,531.2 L596.2,532.7 L592.5,534.2 L588.8,535.8 L585.1,537.3 L581.4,538.9 L577.8,540.5 L574.1,542.2 L570.5,543.8 L566.9,545.5 L563.3,547.2 L559.7,548.9 L556.2,550.6 L552.6,552.4 L549.1,554.2 L545.6,556.0 L542.0,557.9 L538.6,559.8 L535.1,561.7 L531.6,563.6 L528.2,565.6 L524.8,567.5 L521.4,569.6 L518.0,571.6 L514.7,573.7 L511.3,575.8 L508.0,577.9 L504.7,580.1 L501.4,582.3 L498.2,584.6 L494.9,586.8 L491.7,589.2 L488.5,591.5 L485.3,593.9 L482.2,596.3 L479.1,598.7 L476.0,601.2 L472.9,603.8 L469.8,606.3 L466.8,608.9 L463.8,611.6 L460.8,614.2 L457.9,617.0 L454.9,619.7 L452.0,622.5 L449.2,625.4 L446.3,628.2 L443.5,631.2 L440.7,634.1 L438.0,637.1 L435.3,640.2 L432.6,643.2 L430.0,646.4 L427.4,649.5 L424.9,652.7 L422.4,655.9 L420.0,659.2 L417.7,662.5 L415.4,665.8 L413.1,669.2 L411.0,672.6 L408.9,676.0 L406.8,679.5 L404.9,683.0 L403.0,686.5 L401.1,690.1 L399.4,693.7 L397.8,697.3 L396.2,701.0 L394.7,704.6 L393.3,708.3 L392.0,712.1 L390.7,715.8 L389.6,719.6 L388.5,723.4 L387.4,727.3 L386.5,731.1 L385.6,735.0 L384.8,738.9 L384.0,742.8 L383.4,746.8 L382.7,750.7 L382.2,754.7 L381.7,758.7 L381.3,762.6 L380.9,766.7 L380.6,770.7 L380.3,774.7 L380.1,778.7 L380.0,782.8Z"/>
<path class="dk" d="M700.5,519.5 L696.8,521.2 L693.0,522.9 L689.3,524.5 L685.5,526.2 L681.8,527.8 L678.0,529.4 L674.2,531.0 L670.5,532.5 L666.7,534.1 L663.0,535.6 L659.2,537.1 L655.5,538.6 L651.7,540.1 L647.9,541.6 L644.2,543.1 L640.5,544.6 L636.7,546.1 L633.0,547.6 L629.2,549.0 L625.5,550.5 L621.8,551.9 L618.1,553.4 L614.4,554.9 L610.7,556.4 L607.0,557.8 L603.3,559.3 L599.6,560.8 L595.9,562.3 L592.2,563.8 L588.6,565.3 L584.9,566.8 L581.3,568.4 L577.7,569.9 L574.1,571.5 L570.4,573.0 L566.9,574.6 L563.3,576.3 L559.7,577.9 L556.1,579.5 L552.6,581.2 L549.1,582.9 L545.5,584.6 L542.0,586.4 L538.5,588.2 L535.1,590.0 L531.6,591.8 L528.2,593.7 L524.7,595.6 L521.3,597.5 L517.9,599.5 L514.6,601.4 L511.2,603.5 L507.9,605.5 L504.5,607.6 L501.2,609.8 L498.0,612.0 L494.7,614.2 L491.5,616.5 L488.2,618.8 L485.0,621.2 L481.9,623.6 L478.7,626.0 L475.6,628.5 L472.4,631.1 L469.4,633.7 L466.3,636.3 L463.3,639.0 L460.2,641.8 L457.2,644.6 L454.3,647.5 L451.4,650.4 L448.4,653.4 L445.6,656.4 L442.7,659.5 L440.0,662.6 L437.2,665.8 L434.5,669.0 L431.8,672.3 L429.2,675.6 L426.6,678.9 L424.1,682.3 L421.7,685.7 L419.3,689.1 L416.9,692.6 L414.6,696.1 L412.4,699.6 L410.2,703.2 L408.2,706.8 L406.1,710.4 L404.2,714.0 L402.3,717.7 L400.5,721.4 L398.8,725.1 L397.2,728.8 L395.6,732.5 L394.2,736.2 L392.8,740.0 L391.5,743.7 L390.3,747.5 L389.2,751.3 L388.2,755.1 L387.3,758.9 L386.5,762.7 L385.8,766.5 L385.2,770.2 L384.7,774.0 L384.3,777.8 L384.1,781.6 L383.9,785.4 L383.9,789.2 L383.9,792.9 L384.1,796.7 L384.3,800.4 L384.7,804.2 L385.2,807.9 L385.7,811.6 L386.3,815.3 L387.1,819.1 L387.9,822.7 L388.8,826.4 L389.8,830.1 L390.9,833.8 L392.1,837.4 L393.4,841.0 L394.7,844.6 L396.1,848.2 L397.6,851.8 L399.2,855.4 L400.8,858.9 L402.6,862.5 L404.3,866.0 L406.2,869.5 L408.1,873.0 L410.1,876.4 L412.2,879.8 L414.3,883.3 L416.4,886.7 L418.7,890.0 L421.0,893.4 L423.3,896.7 L425.7,900.0 L428.2,903.2 L430.7,906.5 L433.2,909.7 L435.8,912.9 L438.4,916.1 L441.1,919.2 L443.8,922.3 L446.6,925.4 L449.4,928.4 L452.2,931.4 L455.1,934.4 L458.0,937.4 L460.9,940.3 L463.9,943.2 L466.9,946.0 L469.9,948.9 L472.9,951.6 L476.0,954.4 L479.1,957.1 L482.2,959.8 L485.3,962.4 L488.5,965.0 L491.6,967.6 L494.8,970.1 L498.0,972.6 L501.2,975.1 L504.5,977.5 L507.7,979.9 L511.0,982.3 L514.3,984.6 L517.6,986.9 L520.9,989.2 L524.3,991.4 L527.6,993.6 L531.0,995.7 L534.4,997.9 L537.8,1000.0 L541.3,1002.0 L544.7,1004.1 L548.2,1006.1 L551.6,1008.0 L555.1,1010.0 L558.6,1011.9 L562.2,1013.8 L565.7,1015.6 L569.2,1017.4 L572.8,1019.2 L576.4,1021.0 L580.0,1022.7 L583.6,1024.4 L587.2,1026.0 L590.8,1027.7 L594.5,1029.3 L598.1,1030.9 L601.8,1032.4 L605.5,1034.0 L609.2,1035.5 L612.9,1036.9 L616.6,1038.4 L620.3,1039.8 L624.0,1041.2 L627.8,1042.5 L631.5,1043.9 L635.3,1045.2 L639.1,1046.5 L642.9,1047.7 L646.7,1049.0 L650.5,1050.2 L654.3,1051.4 L658.1,1052.5 L661.9,1053.6 L665.8,1054.8 L669.6,1055.8 L673.5,1056.9 L677.3,1057.9 L681.2,1058.9 L685.1,1059.9 L689.0,1060.9 L692.9,1061.9 L696.8,1062.8 L700.7,1063.7 L704.6,1064.6 L708.5,1065.4 L712.4,1066.2 L716.4,1067.1 L720.3,1067.8 L724.2,1068.6 L728.2,1069.4 L732.1,1070.1 L736.1,1070.8 L740.0,1071.5 L744.0,1072.2 L747.9,1072.8 L751.9,1073.5 L755.9,1074.1 L759.8,1074.7 L763.8,1075.2 L767.8,1075.8 L771.8,1076.3 L775.8,1076.8 L779.7,1077.3 L783.7,1077.8 L787.7,1078.3 L791.7,1078.7 L795.7,1079.2 L799.7,1079.6 L803.7,1080.0 L807.7,1080.3 L811.7,1080.7 L815.7,1081.0 L819.7,1081.3 L823.7,1081.6 L827.7,1081.9 L831.7,1082.2 L835.7,1082.4 L839.7,1082.7 L843.7,1082.9 L847.7,1083.1 L851.8,1083.2 L855.8,1083.4 L859.8,1083.5 L863.8,1083.7 L867.8,1083.8 L871.8,1083.9 L875.8,1083.9 L879.9,1084.0 L883.9,1084.0 L887.9,1084.0 L891.9,1084.0 L895.9,1084.0 L899.9,1084.0 L904.0,1083.9 L908.0,1083.9 L912.0,1083.8 L916.0,1083.7 L920.0,1083.6 L924.0,1083.4 L928.1,1083.3 L932.1,1083.1 L936.1,1082.9 L940.1,1082.7 L944.1,1082.5 L948.1,1082.3 L952.1,1082.0 L956.1,1081.8 L960.2,1081.5 L964.2,1081.2 L968.2,1080.9 L972.2,1080.5 L976.2,1080.2 L980.2,1079.8 L984.2,1079.4 L988.2,1079.0 L992.2,1078.6 L996.2,1078.2 L1000.2,1077.8 L1004.1,1077.3 L1008.1,1076.8 L1012.1,1076.3 L1016.1,1075.8 L1020.1,1075.3 L1024.1,1074.8 L1028.0,1074.2 L1032.0,1073.6 L1036.0,1073.0 L1040.0,1072.4 L1043.9,1071.8 L1047.9,1071.2 L1051.8,1070.5 L1055.8,1069.9 L1059.8,1069.2 L1063.7,1068.5 L1067.6,1067.7 L1071.6,1067.0 L1075.5,1066.2 L1079.4,1065.4 L1083.4,1064.6 L1087.3,1063.8 L1091.2,1063.0 L1095.1,1062.1 L1099.0,1061.2 L1102.9,1060.3 L1106.8,1059.4 L1110.6,1058.4 L1114.5,1057.4 L1118.4,1056.4 L1122.2,1055.4 L1126.1,1054.3 L1129.9,1053.2 L1133.7,1052.1 L1137.6,1051.0 L1141.4,1049.9 L1145.2,1048.7 L1149.0,1047.5 L1152.8,1046.2 L1156.5,1045.0 L1160.3,1043.7 L1164.1,1042.4 L1167.8,1041.0 L1171.6,1039.6 L1175.3,1038.2 L1179.0,1036.8 L1182.7,1035.3 L1186.4,1033.8 L1190.1,1032.3 L1193.7,1030.8 L1197.4,1029.2 L1201.0,1027.5 L1204.7,1025.9 L1208.3,1024.2 L1211.9,1022.5 L1215.5,1020.7 L1219.1,1019.0 L1222.6,1017.1 L1226.2,1015.3 L1229.7,1013.4 L1233.2,1011.5 L1236.7,1009.5 L1240.2,1007.5 L1243.7,1005.5 L1247.2,1003.5 L1250.6,1001.4 L1254.0,999.3 L1257.4,997.1 L1260.8,995.0 L1264.2,992.7 L1267.5,990.5 L1270.9,988.2 L1274.2,985.9 L1277.5,983.6 L1280.7,981.2 L1284.0,978.8 L1287.2,976.4 L1290.4,973.9 L1293.6,971.4 L1296.7,968.9 L1299.9,966.3 L1303.0,963.8 L1306.1,961.1 L1309.2,958.5 L1312.2,955.8 L1315.2,953.1 L1318.2,950.4 L1321.2,947.6 L1324.1,944.8 L1327.0,942.0 L1329.9,939.1 L1332.8,936.2 L1335.6,933.3 L1338.4,930.4 L1341.2,927.4 L1344.0,924.4 L1346.7,921.3 L1349.4,918.3 L1352.0,915.2 L1354.7,912.1 L1357.3,908.9 L1359.8,905.7 L1362.4,902.5 L1364.9,899.3 L1367.3,896.0 L1369.8,892.7 L1372.2,889.4 L1374.5,886.1 L1376.8,882.7 L1379.0,879.3 L1381.2,875.9 L1383.3,872.5 L1385.4,869.0 L1387.4,865.5 L1389.3,862.0 L1391.2,858.4 L1393.0,854.8 L1394.7,851.2 L1396.3,847.6 L1397.9,844.0 L1399.3,840.3 L1400.7,836.6 L1402.0,832.9 L1403.2,829.2 L1404.3,825.4 L1405.3,821.6 L1406.2,817.8 L1407.0,814.0 L1407.7,810.2 L1408.3,806.3 L1408.8,802.5 L1409.2,798.6 L1409.5,794.7 L1409.7,790.8 L1409.8,786.9 L1409.8,783.0 L1409.7,779.0 L1409.5,775.1 L1409.2,771.2 L1408.9,767.3 L1408.4,763.4 L1407.9,759.5 L1407.2,755.6 L1406.5,751.7 L1405.7,747.8 L1404.8,743.9 L1403.8,740.1 L1402.7,736.3 L1401.6,732.4 L1400.3,728.7 L1399.0,724.9 L1397.6,721.1 L1396.1,717.4 L1394.6,713.7 L1392.9,710.1 L1391.2,706.5 L1389.4,702.9 L1387.6,699.3 L1385.6,695.8 L1383.6,692.3 L1381.5,688.9 L1379.4,685.5 L1377.1,682.1 L1374.8,678.8 L1372.5,675.6 L1370.0,672.4 L1367.5,669.2 L1365.0,666.1 L1362.4,663.0 L1359.7,659.9 L1357.0,656.9 L1354.2,654.0 L1351.4,651.0 L1348.5,648.2 L1345.6,645.3 L1342.6,642.5 L1339.6,639.7 L1336.6,637.0 L1333.5,634.3 L1330.4,631.7 L1327.2,629.1 L1324.0,626.5 L1320.8,624.0 L1317.6,621.5 L1314.3,619.0 L1311.0,616.6 L1307.7,614.2 L1304.3,611.9 L1301.0,609.6 L1297.6,607.3 L1294.2,605.0 L1290.8,602.8 L1287.4,600.7 L1284.0,598.5 L1280.5,596.4 L1277.1,594.3 L1273.6,592.3 L1270.1,590.3 L1266.6,588.3 L1263.1,586.3 L1259.6,584.4 L1256.1,582.5 L1252.5,580.7 L1249.0,578.8 L1245.4,577.0 L1241.8,575.3 L1238.2,573.5 L1234.6,571.8 L1231.0,570.1 L1227.4,568.4 L1223.8,566.8 L1220.1,565.2 L1216.5,563.6 L1212.8,562.0 L1209.2,560.5 L1205.5,558.9 L1201.8,557.4 L1198.1,556.0 L1194.4,554.5 L1190.7,553.1 L1186.9,551.7 L1183.2,550.3 L1179.5,548.9 L1175.7,547.6 L1171.9,546.2 L1168.2,544.9 L1164.4,543.6 L1160.6,542.4 L1156.8,541.1 L1153.0,539.9 L1149.2,538.7 L1145.4,537.4 L1141.6,536.3 L1137.8,535.1 L1133.9,533.9 L1130.1,532.8 L1126.2,531.6 L1122.4,530.5 L1118.5,529.4 L1114.7,528.3 L1110.8,527.3 L1106.9,526.2 L1103.1,525.1 L1099.2,524.1 L1095.3,523.1 L1091.4,522.0 L1087.5,521.0 L1083.6,520.0 L1079.7,519.0 L1075.8,518.0 L1071.9,517.0 L1067.9,516.1"/>
<path class="lt" d="M1322.5,931.3 L1319.8,934.6 L1317.1,937.7 L1314.4,940.9 L1311.6,944.0 L1308.8,947.0 L1305.9,949.9 L1303.0,952.9 L1300.1,955.7 L1297.1,958.5 L1294.1,961.3 L1291.1,964.0 L1288.0,966.6 L1284.9,969.2 L1281.7,971.8 L1278.6,974.3 L1275.4,976.8 L1272.2,979.2 L1268.9,981.5 L1265.6,983.8 L1262.3,986.1 L1259.0,988.3 L1255.6,990.5 L1252.2,992.6 L1248.8,994.7 L1245.3,996.8 L1241.9,998.8 L1238.4,1000.8 L1234.8,1002.7 L1231.3,1004.6 L1227.7,1006.4 L1224.1,1008.2 L1220.5,1010.0 L1216.9,1011.7 L1213.2,1013.4 L1209.5,1015.0 L1205.8,1016.6 L1202.1,1018.2 L1198.4,1019.7 L1194.6,1021.3 L1190.9,1022.7 L1187.1,1024.2 L1183.3,1025.6 L1179.4,1027.0 L1175.6,1028.3 L1171.7,1029.6 L1167.9,1030.9 L1164.0,1032.1 L1160.1,1033.4 L1156.2,1034.6 L1152.3,1035.7 L1148.3,1036.9 L1144.4,1038.0 L1140.5,1039.1 L1136.5,1040.1 L1132.5,1041.2 L1128.5,1042.2 L1124.5,1043.2 L1120.5,1044.1 L1116.5,1045.1 L1112.5,1046.0 L1108.5,1046.9 L1104.5,1047.8 L1100.5,1048.6 L1096.4,1049.4 L1092.4,1050.3 L1088.3,1051.1 L1084.3,1051.8 L1080.3,1052.6 L1076.2,1053.4 L1072.2,1054.1 L1068.1,1054.8 L1064.1,1055.5 L1060.0,1056.2 L1056.0,1056.9 L1051.9,1057.5 L1047.9,1058.2 L1043.8,1058.8 L1039.8,1059.5 L1035.7,1060.1 L1031.7,1060.7 L1027.7,1061.3 L1023.7,1061.9 L1019.6,1062.4 L1015.6,1063.0 L1011.6,1063.6 L1007.6,1064.1 L1003.6,1064.7 L999.7,1065.2 L995.7,1065.8 L991.7,1066.3 L987.8,1066.9 L983.8,1067.4 L979.9,1067.9 L976.0,1068.5 L972.1,1069.0 L968.2,1069.5 L964.3,1070.0 L960.4,1070.6"/>
<path class="dk" d="M670.1,1046.1 L666.5,1044.3 L663.0,1042.4 L659.4,1040.3 L656.0,1038.2 L652.5,1035.9 L649.1,1033.5 L645.7,1031.1 L642.4,1028.6 L639.1,1026.0 L635.9,1023.4 L632.7,1020.8 L629.5,1018.1 L626.3,1015.3 L623.2,1012.6 L620.2,1009.8 L617.2,1007.0 L614.3,1004.2 L611.4,1001.3 L608.7,998.3 L606.1,995.3 L603.7,992.2 L601.3,989.0 L599.1,985.8 L597.0,982.5 L595.0,979.2 L593.2,975.8 L591.5,972.3 L590.0,968.8 L588.6,965.3 L587.3,961.7 L586.2,958.1 L585.2,954.4 L584.4,950.7 L583.7,947.0 L583.1,943.2 L582.8,939.4 L582.5,935.6 L582.5,931.8 L582.6,927.9 L582.8,924.0 L583.2,920.1 L583.7,916.2 L584.3,912.3 L585.1,908.4 L585.9,904.4 L586.9,900.4 L587.9,896.5 L589.0,892.5 L590.1,888.5 L591.3,884.5 L592.5,880.5 L593.8,876.5 L595.0,872.5 L596.3,868.5 L597.6,864.5 L598.8,860.5 L600.0,856.5 L601.2,852.5 L602.3,848.5 L603.4,844.5 L604.4,840.5 L605.4,836.5 L606.3,832.6 L607.1,828.6 L607.9,824.6 L608.6,820.7 L609.3,816.8 L610.0,812.8 L610.6,808.9 L611.2,804.9 L611.7,801.0 L612.3,797.1 L612.8,793.2 L613.2,789.2 L613.7,785.3 L614.2,781.4 L614.6,777.5 L615.0,773.5 L615.5,769.6 L615.9,765.7 L616.4,761.8 L616.8,757.8 L617.3,753.9 L617.8,750.0 L618.3,746.0 L618.9,742.1 L619.4,738.2 L620.0,734.2 L620.7,730.3 L621.3,726.3 L622.0,722.4 L622.7,718.4 L623.4,714.5 L624.2,710.5 L625.0,706.6 L625.8,702.6 L626.7,698.7 L627.6,694.8 L628.5,690.8 L629.4,686.9 L630.4,683.0 L631.4,679.1 L632.5,675.2 L633.5,671.3 L634.7,667.4 L635.8,663.6 L637.0,659.7 L638.2,655.9 L639.5,652.0 L640.7,648.2 L642.1,644.4 L643.4,640.6 L644.8,636.9 L646.2,633.1 L647.7,629.4 L649.2,625.6 L650.8,621.9 L652.3,618.3 L654.0,614.6 L655.6,611.0 L657.3,607.3 L659.1,603.7 L660.8,600.2 L662.6,596.6 L664.5,593.1 L666.4,589.6 L668.3,586.1 L670.3,582.7 L672.4,579.2 L674.4,575.9 L676.5,572.5 L678.7,569.2 L680.9,565.9 L683.1,562.6 L685.4,559.3 L687.7,556.1 L690.1,553.0 L692.5,549.8 L695.0,546.7 L697.5,543.6 L700.1,540.6 L702.7,537.6 L705.3,534.7 L708.0,531.7 L710.8,528.9 L713.6,526.0 L716.4,523.2 L719.3,520.5 L722.2,517.7 L725.2,515.1 L728.2,512.4 L731.3,509.8 L734.4,507.3 L737.5,504.8 L740.7,502.3 L743.9,499.9 L747.1,497.5 L750.4,495.2 L753.7,492.9 L757.1,490.6 L760.5,488.5 L763.9,486.3 L767.4,484.2 L770.8,482.1 L774.4,480.1 L777.9,478.2 L781.5,476.3 L785.1,474.4 L788.7,472.6 L792.4,470.8 L796.1,469.1 L799.8,467.5 L803.5,465.8 L807.3,464.3 L811.0,462.8 L814.8,461.3 L818.7,459.9 L822.5,458.6 L826.4,457.3 L830.2,456.0 L834.1,454.8 L838.0,453.7 L842.0,452.6 L845.9,451.6 L849.9,450.6 L853.8,449.7 L857.8,448.9 L861.8,448.1 L865.8,447.4 L869.8,446.7 L873.8,446.1 L877.9,445.5 L881.9,445.0 L886.0,444.6 L890.0,444.2 L894.1,443.9 L898.1,443.6 L902.2,443.4 L906.2,443.3 L910.3,443.2 L914.4,443.2 L918.4,443.2 L922.5,443.4 L926.5,443.6 L930.6,443.8 L934.6,444.1 L938.7,444.5 L942.7,445.0 L946.7,445.5 L950.7,446.1 L954.6,446.8 L958.6,447.5 L962.5,448.3 L966.4,449.2 L970.2,450.2 L974.1,451.3 L977.9,452.4 L981.6,453.6 L985.4,454.9 L989.0,456.3 L992.7,457.8 L996.3,459.3 L999.9,461.0 L1003.4,462.7 L1006.8,464.5 L1010.2,466.4 L1013.6,468.4 L1016.9,470.5 L1020.1,472.6 L1023.3,474.9 L1026.4,477.3 L1029.5,479.7 L1032.5,482.3 L1035.4,484.9 L1038.2,487.7 L1041.0,490.5 L1043.7,493.4 L1046.3,496.4 L1048.8,499.5 L1051.3,502.7 L1053.7,505.9 L1056.0,509.3 L1058.3,512.6 L1060.4,516.1 L1062.5,519.6 L1064.5,523.1 L1066.4,526.7 L1068.2,530.4 L1069.9,534.1 L1071.6,537.8 L1073.1,541.6 L1074.6,545.4 L1076.0,549.3 L1077.3,553.2 L1078.4,557.1 L1079.5,561.0 L1080.5,564.9 L1081.5,568.9 L1082.3,572.9 L1083.0,576.8 L1083.7,580.8 L1084.2,584.9 L1084.7,588.9 L1085.1,592.9 L1085.4,596.9 L1085.6,601.0 L1085.7,605.0 L1085.7,609.1 L1085.7,613.1 L1085.6,617.1 L1085.4,621.2 L1085.1,625.2 L1084.7,629.2 L1084.3,633.2 L1083.8,637.2 L1083.2,641.2 L1082.5,645.2 L1081.7,649.1 L1080.9,653.1 L1080.0,657.0 L1079.0,660.9 L1078.0,664.7 L1076.9,668.6 L1075.7,672.4 L1074.4,676.2 L1073.1,679.9 L1071.7,683.7 L1070.3,687.4 L1068.8,691.1 L1067.2,694.8 L1065.6,698.4 L1063.9,702.1 L1062.2,705.7 L1060.4,709.3 L1058.6,712.8 L1056.7,716.4 L1054.8,719.9 L1052.8,723.4 L1050.8,726.9 L1048.8,730.3 L1046.7,733.8 L1044.6,737.2 L1042.4,740.6 L1040.2,744.0 L1038.0,747.3 L1035.7,750.6 L1033.5,754.0 L1031.1,757.2 L1028.8,760.5 L1026.5,763.8 L1024.1,767.0 L1021.7,770.2 L1019.3,773.4 L1016.8,776.6 L1014.4,779.8 L1011.9,782.9 L1009.4,786.1 L1006.9,789.2 L1004.4,792.3 L1001.9,795.4 L999.4,798.5 L996.8,801.6 L994.3,804.7 L991.7,807.7 L989.1,810.8 L986.6,813.8 L984.0,816.9 L981.4,820.0 L978.8,823.0 L976.2,826.0 L973.6,829.1 L971.1,832.1 L968.5,835.2 L965.9,838.2 L963.3,841.3 L960.7,844.3 L958.1,847.4 L955.6,850.5 L953.0,853.5 L950.4,856.6 L947.9,859.7 L945.4,862.8 L942.8,865.9 L940.3,869.0 L937.8,872.2 L935.3,875.3 L932.8,878.5 L930.4,881.7 L927.9,884.9 L925.5,888.1 L923.1,891.3 L920.7,894.6 L918.3,897.8 L916.0,901.1 L913.7,904.4 L911.4,907.8 L909.1,911.1 L906.8,914.5 L904.6,917.9 L902.3,921.3 L900.1,924.7 L897.9,928.1 L895.7,931.6 L893.5,935.0 L891.3,938.4 L889.1,941.8 L886.9,945.3 L884.7,948.7 L882.5,952.1 L880.2,955.5 L878.0,958.9 L875.7,962.2 L873.4,965.6 L871.1,968.9 L868.8,972.2 L866.5,975.4 L864.1,978.7 L861.7,981.9 L859.3,985.1 L856.8,988.2 L854.3,991.3 L851.8,994.3 L849.2,997.3 L846.5,1000.3 L843.9,1003.2 L841.1,1006.1 L838.4,1008.9 L835.5,1011.6 L832.7,1014.3 L829.7,1017.0 L826.7,1019.5 L823.6,1022.0 L820.5,1024.5 L817.3,1026.8 L814.1,1029.1 L810.7,1031.3 L807.4,1033.5 L803.9,1035.5 L800.4,1037.5 L796.9,1039.4 L793.3,1041.2 L789.7,1043.0 L786.0,1044.6 L782.3,1046.2 L778.6,1047.6 L774.8,1049.0 L771.0,1050.3 L767.1,1051.5 L763.3,1052.6 L759.4,1053.6 L755.5,1054.5 L751.6,1055.3 L747.6,1056.0 L743.7,1056.6 L739.7,1057.1 L735.8,1057.5 L731.8,1057.7 L727.8,1057.9 L723.9,1058.0 L719.9,1057.9 L715.9,1057.7 L712.0,1057.4 L708.1,1057.0 L704.2,1056.5 L700.3,1055.9 L696.4,1055.1 L692.6,1054.2 L688.7,1053.2 L684.9,1052.0 L681.2,1050.8 L677.5,1049.3 L673.8,1047.8 L670.1,1046.1Z"/>
<path class="lt" d="M640.2,1026.3 L636.1,1023.9 L632.2,1021.4 L628.6,1018.8 L625.2,1016.1 L621.9,1013.3 L618.9,1010.4 L616.1,1007.5 L613.5,1004.5 L611.0,1001.3 L608.8,998.2 L606.7,994.9 L604.8,991.6 L603.0,988.2 L601.5,984.7 L600.0,981.2 L598.8,977.7 L597.6,974.0 L596.6,970.4 L595.8,966.7 L595.1,962.9 L594.5,959.1 L594.0,955.3 L593.6,951.4 L593.4,947.5 L593.2,943.6 L593.2,939.6 L593.2,935.6 L593.4,931.7 L593.6,927.6 L593.9,923.6 L594.3,919.6 L594.7,915.5 L595.2,911.5 L595.8,907.5 L596.4,903.4 L597.1,899.4 L597.8,895.3 L598.5,891.3 L599.3,887.3 L600.1,883.3 L600.9,879.3 L601.8,875.3 L602.7,871.3 L603.6,867.3 L604.6,863.3 L605.5,859.3 L606.5,855.4 L607.5,851.4 L608.5,847.4 L609.5,843.5 L610.5,839.5 L611.5,835.6 L612.4,831.6 L613.4,827.7 L614.4,823.7 L615.4,819.8 L616.3,815.8 L617.2,811.9 L618.1,808.0 L619.0,804.0 L619.8,800.1 L620.7,796.1 L621.4,792.2 L622.2,788.3 L622.9,784.3 L623.6,780.4 L624.2,776.5 L624.8,772.5 L625.4,768.6 L625.9,764.7 L626.5,760.8 L627.0,756.8 L627.5,752.9 L628.1,749.0 L628.6,745.1 L629.1,741.1 L629.6,737.2 L630.1,733.3 L630.7,729.4 L631.2,725.5 L631.8,721.6 L632.4,717.7 L633.0,713.8 L633.7,709.9 L634.4,706.1 L635.1,702.2 L635.9,698.3 L636.7,694.5 L637.6,690.6 L638.5,686.8 L639.5,682.9 L640.5,679.1 L641.6,675.3 L642.8,671.5 L644.0,667.7 L645.2,663.9 L646.5,660.1 L647.8,656.3 L649.2,652.6 L650.7,648.8 L652.2,645.1 L653.7,641.4 L655.3,637.7 L656.9,634.0 L658.6,630.3 L660.3,626.7 L662.1,623.0 L663.9,619.4 L665.8,615.9 L667.7,612.3 L669.7,608.7 L671.7,605.2 L673.7,601.7 L675.8,598.2 L678.0,594.8 L680.1,591.3 L682.4,587.9 L684.6,584.5 L686.9,581.2 L689.3,577.9 L691.6,574.6 L694.1,571.3 L696.5,568.1 L699.0,564.8 L701.6,561.7 L704.1,558.5 L706.7,555.4 L709.4,552.3 L712.1,549.3 L714.8,546.2 L717.6,543.3 L720.3,540.3 L723.2,537.4 L726.0,534.5 L728.9,531.7 L731.9,528.9 L734.8,526.1 L737.8,523.4 L740.8,520.7 L743.9,518.1 L747.0,515.5 L750.1,513.0 L753.3,510.4 L756.4,508.0 L759.7,505.6 L762.9,503.2 L766.2,500.8 L769.5,498.6 L772.8,496.3 L776.1,494.1 L779.5,492.0 L782.9,489.9 L786.3,487.9 L789.8,485.9 L793.3,483.9 L796.8,482.0 L800.3,480.2 L803.9,478.4 L807.4,476.7 L811.0,475.0 L814.6,473.4 L818.3,471.8 L821.9,470.3 L825.6,468.9 L829.3,467.5 L833.1,466.2 L836.8,464.9 L840.6,463.7 L844.3,462.5 L848.1,461.4 L852.0,460.4 L855.8,459.4 L859.6,458.5 L863.5,457.7 L867.4,456.9 L871.3,456.2 L875.2,455.6 L879.1,455.0 L883.1,454.5 L887.0,454.1 L891.0,453.7 L895.0,453.4 L899.0,453.2 L903.0,453.0 L907.0,452.9 L911.0,452.9 L915.0,453.0 L919.1,453.1 L923.1,453.3 L927.2,453.6 L931.2,454.0 L935.3,454.4 L939.3,455.0 L943.4,455.6 L947.4,456.3 L951.4,457.0 L955.3,457.9 L959.3,458.8 L963.2,459.9 L967.1,461.0 L970.9,462.2 L974.8,463.5 L978.5,464.9 L982.2,466.4 L985.9,468.0 L989.5,469.7 L993.1,471.5 L996.6,473.4 L1000.1,475.4 L1003.4,477.5 L1006.8,479.6 L1010.0,481.9 L1013.2,484.3 L1016.2,486.9 L1019.2,489.5 L1022.2,492.2 L1025.0,495.1 L1027.7,498.0 L1030.4,501.1 L1032.9,504.2 L1035.3,507.5 L1037.7,510.8 L1039.9,514.2 L1042.1,517.7 L1044.1,521.2 L1046.1,524.8 L1047.9,528.5 L1049.6,532.2 L1051.2,535.9 L1052.8,539.7 L1054.2,543.5 L1055.4,547.4 L1056.6,551.2 L1057.7,555.0 L1058.6,558.9 L1059.5,562.8 L1060.2,566.6 L1060.8,570.5 L1061.3,574.4 L1061.8,578.3 L1062.1,582.2 L1062.3,586.1 L1062.4,590.1 L1062.5,594.0 L1062.4,597.9 L1062.3,601.8 L1062.1,605.7 L1061.7,609.7 L1061.4,613.6 L1060.9,617.5 L1060.3,621.4 L1059.7,625.3 L1059.0,629.2 L1058.2,633.2 L1057.3,637.1 L1056.4,640.9 L1055.4,644.8 L1054.4,648.7 L1053.2,652.6 L1052.1,656.4 L1050.8,660.3 L1049.5,664.1 L1048.2,667.9 L1046.7,671.7 L1045.3,675.5 L1043.8,679.3 L1042.2,683.1 L1040.6,686.8 L1039.0,690.6 L1037.3,694.3 L1035.5,698.0 L1033.8,701.6 L1032.0,705.3 L1030.1,708.9 L1028.3,712.5 L1026.4,716.1 L1024.4,719.7 L1022.5,723.2 L1020.5,726.7 L1018.5,730.2 L1016.4,733.7 L1014.4,737.1 L1012.3,740.6 L1010.2,744.0 L1008.0,747.4 L1005.9,750.7 L1003.7,754.1 L1001.5,757.4 L999.2,760.8 L997.0,764.1 L994.7,767.3 L992.4,770.6 L990.1,773.9 L987.8,777.1 L985.4,780.3 L983.1,783.6 L980.7,786.8 L978.3,790.0 L975.9,793.1 L973.4,796.3 L971.0,799.5 L968.5,802.6 L966.1,805.7 L963.6,808.9 L961.1,812.0 L958.6,815.1 L956.1,818.2 L953.5,821.3 L951.0,824.4 L948.4,827.5 L945.9,830.5 L943.3,833.6 L940.8,836.7 L938.2,839.7 L935.6,842.8 L933.0,845.8 L930.4,848.9 L927.8,851.9 L925.2,855.0 L922.6,858.0 L920.0,861.1 L917.4,864.1 L914.8,867.2 L912.1,870.2 L909.5,873.3 L906.9,876.3 L904.3,879.4 L901.7,882.4 L899.1,885.5 L896.5,888.6 L893.9,891.6 L891.3,894.7 L888.7,897.8 L886.1,900.9 L883.5,904.0 L880.9,907.1 L878.4,910.2 L875.8,913.3 L873.3,916.4 L870.7,919.5 L868.2,922.7 L865.7,925.8 L863.1,929.0 L860.6,932.2 L858.2,935.4 L855.7,938.6 L853.2,941.8 L850.7,945.0 L848.3,948.2 L845.8,951.4 L843.4,954.7 L840.9,957.9 L838.5,961.1 L836.0,964.2 L833.5,967.4 L831.0,970.5 L828.4,973.6 L825.9,976.7 L823.3,979.7 L820.6,982.7 L818.0,985.6 L815.3,988.5 L812.5,991.4 L809.8,994.2 L806.9,996.9 L804.0,999.6 L801.1,1002.2 L798.1,1004.7 L795.0,1007.1 L791.9,1009.5 L788.7,1011.8 L785.4,1014.0 L782.1,1016.1 L778.7,1018.1 L775.2,1020.0 L771.6,1021.8 L767.9,1023.5 L764.1,1025.1 L760.3,1026.5 L756.3,1027.9 L752.2,1029.1 L748.0,1030.2 L743.8,1031.2 L739.4,1032.0"/>
<path class="lt" d="M650.4,645.5 L651.7,641.8 L652.9,638.1 L654.3,634.3 L655.7,630.7 L657.2,627.0 L658.7,623.3 L660.3,619.7 L662.0,616.1 L663.7,612.5 L665.5,609.0 L667.3,605.4 L669.2,601.9 L671.2,598.4 L673.2,595.0 L675.2,591.6 L677.4,588.2 L679.5,584.8 L681.8,581.4 L684.1,578.1 L686.4,574.8 L688.8,571.6 L691.2,568.4 L693.7,565.2 L696.3,562.0 L698.9,558.9 L701.5,555.8 L704.2,552.8 L706.9,549.8 L709.7,546.8 L712.5,543.9 L715.4,541.0 L718.3,538.1 L721.3,535.3 L724.3,532.5 L727.3,529.8 L730.4,527.1 L733.5,524.4 L736.6,521.8 L739.8,519.2 L743.1,516.7 L746.3,514.2 L749.6,511.8 L753.0,509.4 L756.4,507.1 L759.8,504.8 L763.2,502.5 L766.7,500.3 L770.2,498.2 L773.7,496.1 L777.3,494.1 L780.9,492.1 L784.5,490.1 L788.1,488.3 L791.8,486.4 L795.5,484.6 L799.2,482.9 L803.0,481.3 L806.7,479.7 L810.5,478.1 L814.3,476.6 L818.2,475.2 L822.0,473.8 L825.9,472.5 L829.8,471.2 L833.7,470.1 L837.7,468.9 L841.6,467.9 L845.6,466.9 L849.6,465.9 L853.6,465.0 L857.6,464.2 L861.6,463.5 L865.6,462.8 L869.7,462.2 L873.7,461.7 L877.8,461.2 L881.8,460.8 L885.9,460.5 L890.0,460.2 L894.0,460.1 L898.1,460.0 L902.1,459.9 L906.1,460.0 L910.2,460.1 L914.2,460.3 L918.2,460.6 L922.2,461.0 L926.1,461.4 L930.1,461.9 L934.0,462.5 L937.9,463.2 L941.7,464.0 L945.6,464.9 L949.4,465.8 L953.2,466.8 L956.9,468.0 L960.6,469.2 L964.3,470.5 L967.9,471.9 L971.5,473.3 L975.0,474.9 L978.5,476.6 L981.9,478.4 L985.3,480.2 L988.6,482.2 L991.9,484.2 L995.1,486.4 L998.3,488.6 L1001.4,491.0 L1004.4,493.4 L1007.4,496.0 L1010.3,498.6 L1013.2,501.4 L1015.9,504.2 L1018.6,507.2 L1021.2,510.3 L1023.8,513.5 L1026.2,516.8 L1028.6,520.2 L1030.9,523.7 L1033.1,527.3 L1035.3,531.0 L1037.3,534.9 L1039.2,538.8 L1041.1,542.9 L1042.8,547.1 L1044.5,551.4 L1046.1,555.8"/>
<path class="dk" d="M893.9,485.2 L889.8,485.4 L885.7,485.7 L881.7,486.0 L877.6,486.5 L873.6,486.9 L869.6,487.5 L865.6,488.2 L861.6,488.9 L857.6,489.7 L853.6,490.5 L849.7,491.4 L845.8,492.4 L841.9,493.5 L838.0,494.6 L834.1,495.9 L830.3,497.1 L826.5,498.5 L822.7,499.9 L818.9,501.3 L815.2,502.9 L811.5,504.5 L807.8,506.2 L804.1,507.9 L800.5,509.7 L796.9,511.5 L793.4,513.4 L789.9,515.4 L786.4,517.5 L782.9,519.6 L779.5,521.7 L776.1,523.9 L772.8,526.2 L769.5,528.5 L766.3,530.9 L763.0,533.3 L759.9,535.8 L756.8,538.4 L753.7,541.0 L750.6,543.6 L747.6,546.3 L744.7,549.1 L741.8,551.9 L739.0,554.7 L736.2,557.6 L733.4,560.6 L730.8,563.6 L728.1,566.7 L725.5,569.8 L723.0,572.9 L720.6,576.1 L718.2,579.3 L715.8,582.6 L713.5,585.9 L711.3,589.3 L709.1,592.7 L707.0,596.2 L705.0,599.6 L703.0,603.2 L701.1,606.7 L699.3,610.4 L697.5,614.0 L695.8,617.7 L694.1,621.4 L692.6,625.2 L691.1,629.0 L689.7,632.8 L688.3,636.7 L687.0,640.6 L685.8,644.5 L684.7,648.5 L683.7,652.5 L682.7,656.5 L681.8,660.5 L681.0,664.6 L680.3,668.6 L679.7,672.7 L679.2,676.8 L678.8,680.9 L678.5,684.9 L678.3,689.0 L678.2,693.0 L678.2,697.0 L678.3,701.0 L678.5,704.9 L678.9,708.8 L679.3,712.7 L679.9,716.5 L680.6,720.2 L681.5,723.9 L682.5,727.6 L683.6,731.1 L684.8,734.6 L686.2,738.1 L687.7,741.4 L689.4,744.6 L691.2,747.8 L693.2,750.8 L695.3,753.8 L697.6,756.6 L700.1,759.4 L702.7,762.0 L705.4,764.5 L708.4,766.9 L711.4,769.1 L714.7,771.3 L718.0,773.3 L721.5,775.3 L725.1,777.1 L728.7,778.9 L732.5,780.5 L736.4,782.1 L740.4,783.6 L744.4,785.0 L748.5,786.4 L752.7,787.6 L756.9,788.9 L761.1,790.0 L765.4,791.1 L769.7,792.2 L774.0,793.2 L778.3,794.1 L782.6,795.1 L786.9,796.0 L791.1,796.8 L795.4,797.7 L799.6,798.5 L803.7,799.3 L807.9,800.1 L811.9,800.8 L815.9,801.5 L819.9,802.2 L823.9,802.9 L827.8,803.5 L831.7,804.1 L835.6,804.6 L839.5,805.1 L843.3,805.5 L847.2,805.8 L851.0,806.0 L854.9,806.2 L858.8,806.3 L862.6,806.3 L866.5,806.2 L870.4,806.0 L874.3,805.8 L878.2,805.4 L882.0,805.0 L885.9,804.4 L889.8,803.8 L893.7,803.1 L897.6,802.3 L901.5,801.5 L905.3,800.5 L909.2,799.5 L913.0,798.3 L916.9,797.1 L920.7,795.9 L924.4,794.5 L928.2,793.1 L931.9,791.6 L935.6,790.0 L939.3,788.3 L943.0,786.6 L946.6,784.8 L950.2,782.9 L953.7,780.9 L957.2,778.9 L960.7,776.8 L964.1,774.6 L967.5,772.4 L970.8,770.1 L974.1,767.7 L977.4,765.3 L980.5,762.8 L983.7,760.2 L986.7,757.6 L989.7,754.9 L992.7,752.1 L995.6,749.3 L998.4,746.4 L1001.2,743.5 L1003.8,740.5 L1006.4,737.5 L1009.0,734.3 L1011.4,731.2 L1013.8,728.0 L1016.1,724.7 L1018.4,721.4 L1020.5,718.0 L1022.6,714.5 L1024.6,711.1 L1026.5,707.6 L1028.3,704.0 L1030.0,700.4 L1031.7,696.7 L1033.3,693.1 L1034.8,689.3 L1036.2,685.6 L1037.5,681.8 L1038.7,678.0 L1039.8,674.1 L1040.9,670.3 L1041.9,666.4 L1042.7,662.4 L1043.5,658.5 L1044.2,654.5 L1044.8,650.6 L1045.3,646.6 L1045.8,642.5 L1046.1,638.5 L1046.3,634.5 L1046.5,630.4 L1046.5,626.4 L1046.5,622.3 L1046.3,618.2 L1046.1,614.2 L1045.8,610.1 L1045.3,606.0 L1044.8,601.9 L1044.2,597.9 L1043.4,593.8 L1042.6,589.8 L1041.7,585.8 L1040.6,581.8 L1039.5,577.8 L1038.3,573.9 L1037.0,570.0 L1035.5,566.2 L1034.0,562.4 L1032.4,558.6 L1030.7,555.0 L1028.9,551.3 L1026.9,547.8 L1024.9,544.3 L1022.8,541.0 L1020.6,537.7 L1018.3,534.5 L1015.9,531.4 L1013.4,528.4 L1010.7,525.5 L1008.0,522.7 L1005.2,520.0 L1002.3,517.5 L999.4,515.0 L996.3,512.7 L993.2,510.4 L989.9,508.3 L986.6,506.2 L983.3,504.3 L979.8,502.4 L976.3,500.7 L972.8,499.0 L969.2,497.5 L965.5,496.0 L961.8,494.7 L958.0,493.4 L954.2,492.3 L950.3,491.2 L946.4,490.2 L942.5,489.3 L938.6,488.5 L934.6,487.8 L930.6,487.1 L926.5,486.6 L922.5,486.1 L918.4,485.8 L914.3,485.5 L910.3,485.3 L906.2,485.1 L902.1,485.1 L898.0,485.1 L893.9,485.2Z"/>
<path class="lt" d="M893.7,472.1 L889.6,472.3 L885.5,472.5 L881.4,472.9 L877.3,473.2 L873.3,473.7 L869.2,474.2 L865.2,474.8 L861.2,475.5 L857.2,476.2 L853.2,477.0 L849.2,477.8 L845.3,478.8 L841.3,479.8 L837.4,480.8 L833.5,482.0 L829.6,483.2 L825.8,484.4 L822.0,485.7 L818.2,487.1 L814.4,488.6 L810.6,490.1 L806.9,491.6 L803.2,493.3 L799.5,494.9 L795.9,496.7 L792.3,498.5 L788.7,500.4 L785.1,502.3 L781.6,504.3 L778.2,506.3 L774.7,508.4 L771.3,510.5 L767.9,512.7 L764.6,515.0 L761.3,517.3 L758.0,519.7 L754.8,522.1 L751.7,524.6 L748.5,527.1 L745.4,529.7 L742.4,532.3 L739.4,535.0 L736.4,537.7 L733.5,540.5 L730.7,543.3 L727.9,546.1 L725.1,549.1 L722.4,552.0 L719.7,555.0 L717.1,558.1 L714.6,561.2 L712.1,564.3 L709.6,567.5 L707.3,570.7 L704.9,574.0 L702.7,577.3 L700.4,580.7 L698.3,584.1 L696.2,587.5 L694.2,591.0 L692.2,594.5 L690.3,598.0 L688.4,601.6 L686.7,605.3 L685.0,608.9 L683.3,612.6 L681.7,616.4 L680.2,620.2 L678.8,624.0 L677.4,627.8 L676.1,631.7 L674.9,635.6 L673.7,639.5 L672.7,643.5 L671.7,647.5 L670.7,651.6 L669.9,655.6 L669.1,659.7 L668.4,663.8 L667.9,667.9 L667.3,672.0 L666.9,676.1 L666.6,680.2 L666.3,684.3 L666.2,688.3 L666.1,692.4 L666.2,696.5 L666.3,700.5 L666.6,704.5 L666.9,708.5 L667.4,712.4 L668.0,716.3 L668.6,720.1 L669.4,723.9 L670.3,727.7 L671.3,731.4 L672.4,735.0 L673.7,738.6 L675.0,742.1 L676.5,745.5 L678.1,748.9 L679.8,752.1 L681.7,755.3 L683.7,758.4 L685.8,761.4 L688.1,764.3 L690.4,767.1 L693.0,769.8 L695.6,772.4 L698.4,774.9 L701.3,777.3 L704.4,779.5 L707.6,781.7 L710.9,783.8 L714.2,785.7 L717.7,787.6 L721.3,789.4 L725.0,791.1 L728.8,792.8 L732.6,794.3 L736.5,795.8 L740.5,797.2 L744.5,798.5 L748.5,799.8 L752.7,801.0 L756.8,802.1 L761.0,803.2 L765.2,804.3 L769.4,805.3 L773.7,806.2 L777.9,807.1 L782.2,808.0 L786.4,808.9 L790.7,809.7 L794.9,810.5 L799.1,811.2 L803.2,812.0 L807.4,812.7 L811.4,813.4 L815.5,814.0 L819.6,814.6 L823.6,815.2 L827.6,815.8 L831.6,816.3 L835.6,816.7 L839.5,817.1 L843.5,817.5 L847.4,817.7 L851.4,817.9 L855.3,818.1 L859.3,818.1 L863.2,818.1 L867.2,818.0 L871.1,817.9 L875.1,817.6 L879.0,817.3 L883.0,816.9 L886.9,816.4 L890.9,815.8 L894.8,815.2 L898.7,814.5 L902.6,813.7 L906.5,812.8 L910.4,811.9 L914.3,810.9 L918.1,809.8 L921.9,808.6 L925.8,807.4 L929.5,806.1 L933.3,804.7 L937.0,803.3 L940.7,801.8 L944.4,800.2 L948.1,798.5 L951.7,796.8 L955.3,795.0 L958.8,793.1 L962.3,791.2 L965.8,789.2 L969.2,787.2 L972.6,785.0 L976.0,782.8 L979.3,780.6 L982.5,778.3 L985.7,775.9 L988.9,773.4 L992.0,770.9 L995.0,768.3 L998.0,765.7 L1000.9,763.0 L1003.8,760.2 L1006.6,757.4 L1009.4,754.5 L1012.1,751.6 L1014.7,748.6 L1017.2,745.5 L1019.7,742.4 L1022.2,739.2 L1024.5,736.0 L1026.8,732.7 L1029.0,729.4 L1031.1,726.0 L1033.2,722.5 L1035.1,719.0 L1037.0,715.5 L1038.9,711.9 L1040.6,708.3 L1042.3,704.6 L1043.9,700.9 L1045.4,697.2 L1046.9,693.4 L1048.3,689.6 L1049.5,685.8 L1050.8,681.9 L1051.9,678.0 L1052.9,674.1 L1053.9,670.1 L1054.8,666.2 L1055.6,662.2 L1056.3,658.2 L1057.0,654.1 L1057.5,650.1 L1058.0,646.1 L1058.4,642.0 L1058.7,637.9 L1058.9,633.8 L1059.0,629.7 L1059.1,625.7 L1059.1,621.6 L1058.9,617.5 L1058.7,613.4 L1058.4,609.3 L1058.0,605.2 L1057.5,601.1 L1057.0,597.1 L1056.3,593.0 L1055.6,589.0 L1054.7,585.0 L1053.8,581.0 L1052.8,577.0 L1051.6,573.1 L1050.4,569.2 L1049.1,565.3 L1047.8,561.5 L1046.3,557.8 L1044.7,554.0 L1043.1,550.4 L1041.3,546.8 L1039.5,543.2 L1037.5,539.7 L1035.5,536.3 L1033.4,533.0 L1031.2,529.7 L1028.9,526.5 L1026.5,523.4 L1024.1,520.4 L1021.5,517.5 L1018.8,514.7 L1016.1,512.0 L1013.3,509.3 L1010.3,506.8 L1007.3,504.4 L1004.2,502.0 L1001.1,499.8 L997.9,497.6 L994.6,495.6 L991.2,493.6 L987.8,491.7 L984.3,490.0 L980.7,488.3 L977.1,486.7 L973.5,485.1 L969.8,483.7 L966.0,482.4 L962.2,481.1 L958.4,479.9 L954.5,478.8 L950.6,477.8 L946.6,476.9 L942.7,476.1 L938.7,475.3 L934.6,474.6 L930.6,474.0 L926.5,473.5 L922.4,473.1 L918.3,472.7 L914.2,472.4 L910.1,472.2 L906.0,472.1 L901.9,472.0 L897.8,472.1 L893.7,472.1Z"/>
<path class="dk" d="M706.0,600.9 L709.9,599.8 L713.8,598.8 L717.7,597.8 L721.7,596.8 L725.6,595.8 L729.5,594.9 L733.5,593.9 L737.4,593.0 L741.4,592.1 L745.3,591.3 L749.3,590.4 L753.3,589.6 L757.2,588.8 L761.2,588.0 L765.2,587.2 L769.2,586.5 L773.2,585.8 L777.2,585.1 L781.2,584.4 L785.2,583.8 L789.2,583.2 L793.2,582.6 L797.3,582.0 L801.3,581.4 L805.3,580.9 L809.3,580.4 L813.4,579.9 L817.4,579.5 L821.4,579.0 L825.5,578.6 L829.5,578.2 L833.6,577.9 L837.6,577.5 L841.7,577.2 L845.7,576.9 L849.8,576.6 L853.8,576.4 L857.9,576.2 L861.9,576.0 L866.0,575.8 L870.1,575.6 L874.1,575.5 L878.2,575.4 L882.2,575.4 L886.3,575.3 L890.3,575.3 L894.4,575.3 L898.5,575.3 L902.5,575.4 L906.6,575.5 L910.6,575.6 L914.7,575.7 L918.7,575.8 L922.8,576.0 L926.8,576.2 L930.9,576.5 L934.9,576.7 L939.0,577.0 L943.0,577.3 L947.1,577.7 L951.1,578.1 L955.1,578.4 L959.2,578.9 L963.2,579.3 L967.2,579.8 L971.3,580.3 L975.3,580.8 L979.3,581.4 L983.3,582.0 L987.3,582.6 L991.3,583.2 L995.3,583.9 L999.3,584.6 L1003.3,585.3 L1007.3,586.1 L1011.3,586.8 L1015.2,587.7 L1019.2,588.5 L1023.2,589.4 L1027.1,590.2 L1031.1,591.2 L1035.0,592.1 L1039.0,593.1"/>
<path class="lt" d="M684.9,652.1 L688.6,650.3 L692.4,648.6 L696.1,646.9 L699.9,645.3 L703.7,643.7 L707.5,642.2 L711.3,640.7 L715.1,639.2 L718.9,637.8 L722.7,636.4 L726.6,635.1 L730.4,633.8 L734.3,632.6 L738.2,631.4 L742.1,630.2 L745.9,629.1 L749.9,628.0 L753.8,626.9 L757.7,625.9 L761.6,625.0 L765.6,624.0 L769.5,623.1 L773.5,622.3 L777.4,621.5 L781.4,620.7 L785.4,619.9 L789.4,619.2 L793.4,618.6 L797.4,617.9 L801.4,617.3 L805.4,616.8 L809.4,616.2 L813.4,615.8 L817.4,615.3 L821.5,614.9 L825.5,614.5 L829.6,614.1 L833.6,613.8 L837.6,613.5 L841.7,613.3 L845.7,613.0 L849.8,612.9 L853.9,612.7 L857.9,612.6 L862.0,612.5 L866.0,612.4 L870.1,612.4 L874.2,612.4 L878.2,612.4 L882.3,612.5 L886.4,612.6 L890.5,612.7 L894.5,612.8 L898.6,613.0 L902.7,613.2 L906.7,613.4 L910.8,613.7 L914.9,614.0 L918.9,614.3 L923.0,614.6 L927.0,615.0 L931.1,615.4 L935.1,615.8 L939.2,616.3 L943.2,616.8 L947.3,617.3 L951.3,617.8 L955.4,618.3 L959.4,618.9 L963.4,619.5 L967.4,620.1 L971.5,620.8 L975.5,621.4 L979.5,622.1 L983.5,622.8 L987.5,623.6 L991.5,624.3 L995.4,625.1 L999.4,625.9 L1003.4,626.7 L1007.3,627.6 L1011.3,628.5 L1015.2,629.3 L1019.1,630.2 L1023.1,631.2 L1027.0,632.1 L1030.9,633.1"/>
<path class="lt" d="M686.9,660.0 L690.6,658.3 L694.4,656.6 L698.1,654.9 L701.9,653.3 L705.7,651.7 L709.5,650.2 L713.3,648.7 L717.1,647.2 L720.9,645.8 L724.7,644.4 L728.6,643.1 L732.4,641.8 L736.3,640.6 L740.2,639.4 L744.1,638.2 L748.0,637.1 L751.9,636.0 L755.8,634.9 L759.7,633.9 L763.6,632.9 L767.6,632.0 L771.5,631.1 L775.5,630.3 L779.5,629.4 L783.4,628.7 L787.4,627.9 L791.4,627.2 L795.4,626.5 L799.4,625.9 L803.4,625.3 L807.4,624.7 L811.4,624.2 L815.5,623.7 L819.5,623.3 L823.5,622.8 L827.6,622.4 L831.6,622.1 L835.6,621.8 L839.7,621.5 L843.8,621.2 L847.8,621.0 L851.9,620.8 L855.9,620.7 L860.0,620.5 L864.1,620.4 L868.1,620.4 L872.2,620.4 L876.3,620.4 L880.3,620.4 L884.4,620.5 L888.5,620.6 L892.5,620.7 L896.6,620.8 L900.7,621.0 L904.7,621.2 L908.8,621.5 L912.9,621.8 L916.9,622.1 L921.0,622.4 L925.1,622.7 L929.1,623.1 L933.2,623.5 L937.2,624.0 L941.3,624.4 L945.3,624.9 L949.4,625.5 L953.4,626.0 L957.4,626.6 L961.5,627.2 L965.5,627.8 L969.5,628.4 L973.5,629.1 L977.5,629.8 L981.5,630.5 L985.5,631.3 L989.5,632.1 L993.5,632.9 L997.4,633.7 L1001.4,634.5 L1005.4,635.4 L1009.3,636.3 L1013.2,637.2 L1017.2,638.1 L1021.1,639.0 L1025.0,640.0 L1028.9,641.0"/>
<path class="dk" d="M682.8,728.9 L686.2,726.5 L689.6,724.2 L693.1,722.0 L696.6,719.8 L700.1,717.7 L703.6,715.6 L707.2,713.6 L710.7,711.6 L714.3,709.7 L717.9,707.8 L721.6,706.0 L725.2,704.3 L728.9,702.6 L732.6,700.9 L736.3,699.3 L740.1,697.8 L743.8,696.3 L747.6,694.8 L751.4,693.4 L755.2,692.1 L759.0,690.8 L762.8,689.5 L766.7,688.3 L770.5,687.2 L774.4,686.1 L778.3,685.0 L782.2,684.0 L786.1,683.1 L790.1,682.1 L794.0,681.3 L797.9,680.4 L801.9,679.7 L805.9,678.9 L809.9,678.2 L813.9,677.6 L817.9,677.0 L821.9,676.4 L825.9,675.9 L829.9,675.4 L833.9,675.0 L838.0,674.6 L842.0,674.2 L846.1,673.9 L850.1,673.7 L854.2,673.4 L858.3,673.2 L862.3,673.1 L866.4,673.0 L870.5,672.9 L874.5,672.9 L878.6,672.9 L882.7,672.9 L886.8,673.0 L890.9,673.1 L894.9,673.2 L899.0,673.4 L903.1,673.6 L907.2,673.9 L911.2,674.2 L915.3,674.5 L919.4,674.8 L923.4,675.2 L927.5,675.6 L931.5,676.1 L935.6,676.6 L939.6,677.1 L943.7,677.6 L947.7,678.2 L951.7,678.8 L955.7,679.5 L959.7,680.1 L963.7,680.8 L967.7,681.6 L971.7,682.3 L975.7,683.1 L979.6,683.9 L983.6,684.8 L987.5,685.6 L991.5,686.5 L995.4,687.5 L999.3,688.4 L1003.2,689.4 L1007.0,690.4 L1010.9,691.4 L1014.7,692.5"/>
<path class="lt" d="M747.9,779.7 L751.1,777.1 L754.4,774.7 L757.7,772.3 L761.1,770.0 L764.5,767.7 L767.9,765.5 L771.4,763.4 L775.0,761.3 L778.5,759.4 L782.1,757.5 L785.8,755.6 L789.5,753.8 L793.2,752.1 L796.9,750.5 L800.7,748.9 L804.5,747.4 L808.3,746.0 L812.2,744.6 L816.1,743.3 L820.0,742.0 L823.9,740.9 L827.9,739.7 L831.8,738.7 L835.8,737.7 L839.9,736.8 L843.9,735.9 L847.9,735.1 L852.0,734.4 L856.1,733.7 L860.2,733.1 L864.3,732.5 L868.4,732.0 L872.5,731.6 L876.6,731.2 L880.8,730.9 L884.9,730.7 L889.0,730.5 L893.2,730.4 L897.3,730.3 L901.5,730.3 L905.6,730.3 L909.8,730.5 L913.9,730.6 L918.0,730.8 L922.1,731.1 L926.3,731.5 L930.4,731.9 L934.4,732.3 L938.5,732.8 L942.6,733.4 L946.7,734.0 L950.7,734.7 L954.7,735.4 L958.7,736.2 L962.7,737.0 L966.7,737.9 L970.6,738.8 L974.5,739.8 L978.4,740.9 L982.3,742.0 L986.1,743.2 L989.9,744.4"/>
<path class="lt" d="M643.1,633.2 L639.4,634.4 L635.7,635.7 L632.1,637.1 L628.4,638.5 L624.7,640.0 L621.0,641.6 L617.4,643.3 L613.8,645.0 L610.1,646.8 L606.5,648.6 L603.0,650.6 L599.4,652.5 L595.9,654.6 L592.3,656.7 L588.9,658.9 L585.4,661.1 L582.0,663.4 L578.6,665.7 L575.2,668.1 L571.9,670.5 L568.6,673.1 L565.3,675.6 L562.1,678.2 L558.9,680.9 L555.8,683.6 L552.7,686.4 L549.7,689.2 L546.7,692.0 L543.7,694.9 L540.8,697.9 L538.0,700.9 L535.2,703.9 L532.4,707.0 L529.8,710.1 L527.1,713.3 L524.6,716.5 L522.1,719.7 L519.7,723.0 L517.3,726.3 L515.0,729.7 L512.8,733.0 L510.6,736.5 L508.5,739.9 L506.5,743.4 L504.5,746.9 L502.7,750.4 L500.9,754.0 L499.2,757.6 L497.6,761.2 L496.0,764.8 L494.6,768.5 L493.2,772.2 L491.9,775.9 L490.8,779.6 L489.7,783.4 L488.7,787.2 L487.8,790.9 L487.0,794.8 L486.2,798.6 L485.6,802.4 L485.1,806.3 L484.7,810.1 L484.4,814.0 L484.2,817.9 L484.1,821.8 L484.1,825.7 L484.1,829.6 L484.3,833.5 L484.6,837.4 L484.9,841.3 L485.4,845.2 L485.9,849.1 L486.5,853.0 L487.2,856.9 L488.0,860.8 L488.9,864.7 L489.8,868.5 L490.9,872.4 L492.0,876.2 L493.2,880.1 L494.5,883.9 L495.9,887.7 L497.3,891.4 L498.8,895.2 L500.4,898.9 L502.1,902.6 L503.8,906.3 L505.6,910.0 L507.5,913.6 L509.5,917.2 L511.5,920.8 L513.6,924.3 L515.7,927.8 L518.0,931.3 L520.2,934.7 L522.6,938.1 L525.0,941.4 L527.5,944.7 L530.0,948.0 L532.6,951.2 L535.2,954.4 L537.9,957.5 L540.7,960.5 L543.5,963.6 L546.4,966.5 L549.3,969.5 L552.2,972.3 L555.3,975.1 L558.3,977.9 L561.4,980.5 L564.6,983.2 L567.8,985.7 L571.0,988.2 L574.3,990.6 L577.7,993.0 L581.1,995.3 L584.5,997.5 L587.9,999.7 L591.4,1001.7 L595.0,1003.7 L598.5,1005.7 L602.1,1007.5 L605.8,1009.3 L609.4,1011.0 L613.1,1012.6 L616.9,1014.1 L620.6,1015.5 L624.4,1016.9 L628.2,1018.1 L632.0,1019.3 L635.9,1020.3"/>
<path class="lt" d="M636.4,676.4 L633.6,678.3 L630.7,680.3 L627.7,682.3 L624.6,684.5 L621.5,686.7 L618.3,688.9 L615.1,691.2 L611.9,693.6 L608.6,696.1 L605.3,698.6 L602.0,701.2 L598.6,703.8 L595.3,706.5 L592.0,709.3 L588.7,712.1 L585.4,714.9 L582.1,717.8 L578.9,720.8 L575.8,723.8 L572.6,726.9 L569.6,730.0 L566.6,733.2 L563.7,736.4 L560.9,739.7 L558.1,743.0 L555.5,746.3 L553.0,749.7 L550.5,753.2 L548.3,756.7 L546.1,760.2 L544.1,763.7 L542.2,767.3 L540.4,771.0 L538.9,774.7 L537.5,778.4 L536.2,782.1 L535.2,785.9 L534.3,789.7 L533.7,793.5 L533.2,797.4 L533.0,801.3 L533.0,805.2 L533.2,809.1 L533.6,813.0 L534.3,816.8 L535.3,820.6 L536.5,824.2 L538.1,827.7 L539.9,831.0 L542.0,834.1 L544.4,837.0 L547.1,839.6 L550.1,842.0 L553.5,844.0 L557.1,845.9 L561.0,847.4 L565.1,848.8 L569.3,850.0 L573.6,851.0 L578.0,851.8 L582.5,852.6 L586.9,853.2 L591.2,853.8 L595.5,854.3 L599.6,854.8 L603.6,855.2"/>
<path class="lt" d="M639.3,692.1 L636.6,694.2 L633.8,696.3 L630.9,698.5 L628.0,700.8 L624.9,703.2 L621.9,705.6 L618.8,708.1 L615.6,710.7 L612.4,713.3 L609.2,716.1 L606.0,718.8 L602.8,721.7 L599.7,724.6 L596.5,727.6 L593.4,730.6 L590.3,733.7 L587.2,736.8 L584.2,740.0 L581.3,743.2 L578.5,746.5 L575.7,749.8 L573.0,753.2 L570.5,756.6 L568.0,760.1 L565.7,763.6 L563.5,767.1 L561.5,770.7 L559.6,774.3 L557.9,778.0 L556.3,781.6 L554.9,785.3 L553.7,789.1 L552.8,792.8 L552.0,796.6 L551.4,800.4 L551.1,804.2 L551.0,808.1 L551.1,811.9 L551.6,815.7 L552.3,819.4 L553.4,822.9 L554.8,826.3 L556.6,829.4 L558.8,832.3 L561.4,834.9 L564.5,837.2 L568.0,839.0 L571.9,840.5 L576.1,841.8 L580.5,842.8 L585.1,843.6 L589.6,844.2 L594.1,844.8 L598.5,845.3 L602.6,845.9 L606.5,846.5"/>
<path class="lt" d="M680.0,1025.0 L678.4,1021.1 L676.9,1017.2 L675.6,1013.2 L674.3,1009.2 L673.2,1005.2 L672.3,1001.1 L671.4,997.1 L670.6,992.9 L670.0,988.8 L669.4,984.7 L669.0,980.5 L668.6,976.3 L668.3,972.1 L668.1,968.0 L668.0,963.8 L667.9,959.6 L667.9,955.4 L668.0,951.1 L668.2,947.0 L668.4,942.8 L668.6,938.6 L668.9,934.4 L669.2,930.3 L669.6,926.1 L670.0,922.0"/>
<path class="lt" d="M690.0,1022.0 L688.2,1018.0 L686.6,1014.0 L685.2,1010.0 L683.9,1005.9 L682.8,1001.8 L681.9,997.6 L681.1,993.4 L680.5,989.2 L680.0,984.9 L679.6,980.7 L679.3,976.4 L679.1,972.1 L679.0,967.8 L679.0,963.5 L679.1,959.2 L679.2,954.8 L679.4,950.5 L679.6,946.2 L679.8,941.9 L680.1,937.7 L680.4,933.4 L680.7,929.2 L681.0,925.0"/>
<path class="lt" d="M695.1,895.3 L697.1,892.0 L699.3,888.8 L701.9,885.8 L704.8,883.0 L707.9,880.3 L711.3,877.8 L714.9,875.5 L718.6,873.4 L722.6,871.5 L726.7,869.8 L730.9,868.3 L735.1,866.9 L739.5,865.8 L743.9,865.0 L748.3,864.3 L752.7,863.9 L757.1,863.7 L761.5,863.8 L765.7,864.1 L769.9,864.7 L774.0,865.6 L777.9,866.7 L781.6,868.1 L785.1,869.8 L788.4,871.7 L791.6,873.9 L794.4,876.4 L797.1,879.0 L799.6,881.9 L801.8,885.0 L803.8,888.2 L805.6,891.6 L807.2,895.1 L808.5,898.7 L809.6,902.4 L810.5,906.1 L811.1,910.0 L811.5,913.8 L811.6,917.7 L811.5,921.6 L811.1,925.4 L810.5,929.3 L809.6,933.0 L808.5,936.7 L807.1,940.3 L805.5,943.9 L803.7,947.3 L801.7,950.7 L799.4,954.0 L797.0,957.3 L794.4,960.5 L791.7,963.6 L788.8,966.6 L785.8,969.6 L782.7,972.6 L779.4,975.4 L776.1,978.3 L772.7,981.0 L769.2,983.7 L765.7,986.4 L762.1,989.0 L758.5,991.5 L754.9,994.0 L751.2,996.5 L747.6,998.9 L744.0,1001.2 L740.5,1003.6 L737.0,1005.9 L733.5,1008.1 L730.1,1010.3 L726.7,1012.5 L723.4,1014.7 L720.1,1016.8 L716.8,1018.9 L713.5,1021.0 L710.3,1023.0 L707.1,1025.1 L703.9,1027.1 L700.6,1029.1 L697.4,1031.2 L694.2,1033.2 L691.0,1035.2"/>
<path class="lt" d="M703.1,902.7 L705.2,898.9 L707.7,895.5 L710.5,892.3 L713.5,889.3 L716.9,886.7 L720.5,884.3 L724.3,882.2 L728.3,880.4 L732.4,878.8 L736.6,877.5 L741.0,876.5 L745.3,875.8 L749.7,875.4 L754.1,875.3 L758.5,875.4 L762.8,875.9 L767.0,876.6 L771.1,877.7 L775.0,879.0 L778.7,880.6 L782.3,882.5 L785.5,884.7 L788.6,887.2 L791.3,889.8 L793.8,892.7 L796.0,895.8 L797.9,899.0 L799.4,902.3 L800.6,905.7 L801.5,909.3 L801.9,912.8 L802.0,916.5 L801.8,920.1 L801.3,923.8 L800.4,927.5 L799.2,931.2 L797.8,934.9 L796.1,938.6 L794.2,942.3 L792.1,945.9 L789.7,949.5 L787.2,953.0 L784.5,956.5 L781.6,959.9 L778.6,963.2 L775.5,966.4 L772.2,969.5 L768.9,972.5 L765.5,975.4 L762.1,978.1 L758.6,980.7 L755.1,983.2 L751.5,985.6 L748.0,987.9 L744.4,990.2 L740.9,992.3 L737.4,994.5 L733.9,996.6 L730.5,998.7 L727.1,1000.8 L723.7,1003.0 L720.5,1005.1 L717.3,1007.4 L714.2,1009.6 L711.2,1012.0 L708.3,1014.5"/>
<path class="lt" d="M629.1,992.6 L628.1,988.8 L627.3,985.0 L626.5,981.2 L625.8,977.3 L625.3,973.4 L624.8,969.5 L624.5,965.5 L624.3,961.5 L624.2,957.5 L624.2,953.5 L624.3,949.5 L624.5,945.4 L624.8,941.4 L625.2,937.4 L625.8,933.4 L626.4,929.4 L627.2,925.4 L628.1,921.4 L629.0,917.4 L630.1,913.5 L631.3,909.6 L632.6,905.8 L634.0,902.0 L635.5,898.2 L637.1,894.4 L638.9,890.8 L640.7,887.1 L642.6,883.6 L644.7,880.1 L646.8,876.7 L649.1,873.3 L651.4,870.0 L653.9,866.8 L656.5,863.7 L659.1,860.6 L661.9,857.7 L664.8,854.8 L667.8,852.1 L670.9,849.4 L674.1,846.9 L677.4,844.5 L680.8,842.1 L684.3,839.9 L687.9,837.9 L691.6,835.9 L695.3,834.1 L699.2,832.3 L703.1,830.8 L707.0,829.3 L711.0,827.9 L715.1,826.7 L719.2,825.6 L723.3,824.7 L727.4,823.9 L731.6,823.2 L735.8,822.6 L739.9,822.2 L744.1,821.9 L748.2,821.8 L752.4,821.8 L756.5,821.9 L760.5,822.2 L764.6,822.7 L768.6,823.2 L772.5,824.0 L776.4,824.8 L780.2,825.8 L783.9,827.0 L787.5,828.3 L791.1,829.8 L794.5,831.4 L797.9,833.2 L801.1,835.2 L804.2,837.3 L807.2,839.5 L810.1,842.0 L812.8,844.5 L815.4,847.3 L817.9,850.2 L820.1,853.3 L822.2,856.5 L824.2,859.9 L825.9,863.4 L827.5,867.1 L828.9,870.8 L830.2,874.6 L831.2,878.5 L832.0,882.5 L832.7,886.5 L833.1,890.5 L833.4,894.5 L833.4,898.6 L833.2,902.6 L832.8,906.6 L832.2,910.5 L831.3,914.4 L830.3,918.3 L829.0,922.1 L827.6,925.8 L825.9,929.4 L824.1,933.0 L822.2,936.5 L820.0,940.0 L817.8,943.4 L815.4,946.8 L812.9,950.0 L810.3,953.3 L807.7,956.4 L804.9,959.5 L802.1,962.5 L799.2,965.5 L796.2,968.4 L793.2,971.2 L790.2,974.0 L787.1,976.8 L784.0,979.5 L780.8,982.2 L777.7,984.8 L774.5,987.4 L771.3,990.0 L768.1,992.6 L764.8,995.2 L761.6,997.7 L758.5,1000.2 L755.3,1002.8 L752.1,1005.3 L749.0,1007.8 L745.9,1010.3 L742.8,1012.8 L739.7,1015.3 L736.7,1017.9 L733.7,1020.4 L730.7,1022.9 L727.7,1025.4 L724.7,1028.0 L721.8,1030.5 L718.9,1033.1 L716.0,1035.6"/>
<path class="dk" d="M884.0,989.0 L850.0,1010.0"/>
<path class="dk" d="M730.0,906.1 L725.9,907.0 L721.8,908.4 L717.7,910.2 L713.8,912.4 L710.2,915.0 L706.8,917.9 L703.8,921.1 L701.2,924.5 L699.1,928.2 L697.5,932.0 L696.6,936.0 L696.4,940.1 L697.0,944.3 L698.4,948.6 L700.7,952.8 L704.0,957.0"/>
<path class="dk" d="M1027.7,767.1 L1032.4,769.4 L1036.8,771.8 L1040.9,774.4 L1044.8,777.1 L1048.3,780.0 L1051.5,783.0 L1054.4,786.2 L1057.1,789.5 L1059.5,792.9 L1061.6,796.3 L1063.4,799.9 L1065.0,803.5 L1066.3,807.2 L1067.3,811.0 L1068.1,814.7 L1068.7,818.5 L1069.0,822.4 L1069.1,826.2 L1068.9,830.0 L1068.6,833.8 L1068.0,837.5 L1067.1,841.3 L1066.1,844.9 L1064.9,848.5 L1063.5,852.1 L1061.9,855.6 L1060.1,859.1 L1058.1,862.4 L1056.0,865.8 L1053.7,869.0 L1051.3,872.1 L1048.7,875.2 L1046.0,878.2 L1043.2,881.1 L1040.2,883.9 L1037.1,886.6 L1033.9,889.2 L1030.6,891.7 L1027.3,894.0 L1023.8,896.3 L1020.2,898.4 L1016.6,900.5 L1012.9,902.4 L1009.2,904.2 L1005.4,905.9 L1001.5,907.5 L997.6,909.0 L993.6,910.5 L989.6,911.8 L985.6,913.1 L981.5,914.3 L977.5,915.4 L973.4,916.5 L969.2,917.5 L965.1,918.5 L961.0,919.4 L956.9,920.3 L952.8,921.1 L948.7,921.9 L944.6,922.7 L940.6,923.5 L936.5,924.3 L932.6,925.0 L928.6,925.7 L924.7,926.5 L920.8,927.2 L917.0,928.0 L913.3,928.7 L909.6,929.5 L906.0,930.4 L902.5,931.2"/>
<path class="dk" d="M1066.0,713.0 L1069.8,714.7 L1073.6,716.3 L1077.4,718.1 L1081.3,719.9 L1085.1,721.7 L1088.9,723.6 L1092.6,725.5 L1096.4,727.5 L1100.1,729.5 L1103.8,731.7 L1107.4,733.9 L1111.0,736.1 L1114.5,738.4 L1118.0,740.9 L1121.4,743.4 L1124.7,745.9 L1128.0,748.6 L1131.2,751.3 L1134.3,754.2 L1137.3,757.1 L1140.2,760.2 L1143.0,763.3 L1145.7,766.6 L1148.2,769.9 L1150.7,773.4 L1153.0,777.0"/>
<path class="lt" d="M1152.7,777.0 L1154.0,780.5 L1155.3,784.1 L1156.6,787.7 L1157.9,791.5 L1159.1,795.3 L1160.3,799.2 L1161.5,803.1 L1162.7,807.1 L1163.7,811.2 L1164.8,815.2 L1165.7,819.3 L1166.6,823.4 L1167.4,827.6 L1168.1,831.7 L1168.7,835.9 L1169.2,840.0 L1169.6,844.1 L1169.9,848.2 L1170.0,852.3 L1170.0,856.3 L1169.8,860.3 L1169.4,864.2 L1169.0,868.1 L1168.3,871.9 L1167.4,875.6 L1166.4,879.2 L1165.2,882.7 L1163.7,886.2 L1162.0,889.5 L1160.2,892.7 L1158.1,895.9 L1155.8,898.9 L1153.3,901.8 L1150.7,904.6 L1147.9,907.3 L1144.9,910.0 L1141.8,912.5 L1138.6,915.0 L1135.3,917.4 L1131.8,919.8 L1128.3,922.1 L1124.7,924.3 L1121.0,926.5 L1117.3,928.7 L1113.6,930.7 L1109.8,932.8 L1105.9,934.8 L1102.1,936.8 L1098.3,938.8 L1094.5,940.8 L1090.7,942.7 L1087.0,944.6 L1083.3,946.6 L1079.7,948.5 L1076.1,950.4 L1072.6,952.4 L1069.2,954.3 L1065.9,956.3 L1062.6,958.2 L1059.3,960.1 L1056.1,962.0 L1052.8,963.8 L1049.6,965.7 L1046.3,967.5 L1043.0,969.2 L1039.7,970.9 L1036.3,972.5 L1032.8,974.1 L1029.3,975.6 L1025.7,977.0 L1021.9,978.3 L1018.1,979.6 L1014.1,980.7 L1010.0,981.8 L1005.8,982.8 L1001.5,983.7 L997.2,984.6 L992.8,985.5 L988.3,986.3 L983.9,987.1 L979.4,988.0 L975.0,988.8 L970.6,989.7 L966.3,990.7 L962.1,991.7 L958.0,992.9 L954.0,994.1 L950.2,995.5 L946.5,996.9 L943.0,998.6 L939.8,1000.4 L936.7,1002.3 L933.9,1004.5 L931.4,1006.9 L929.2,1009.4 L927.3,1012.2 L925.9,1015.2 L925.1,1018.2 L925.0,1021.3 L925.6,1024.4 L926.8,1027.5 L928.7,1030.5 L931.0,1033.4 L933.7,1036.2 L936.9,1038.7 L940.2,1041.0 L943.8,1043.0 L947.5,1044.7 L951.4,1046.1 L955.2,1047.1 L959.2,1047.8 L963.2,1048.3 L967.2,1048.5 L971.3,1048.4 L975.5,1048.2 L979.6,1047.7 L983.8,1047.1 L988.0,1046.3 L992.2,1045.4 L996.4,1044.3 L1000.6,1043.2 L1004.8,1042.1 L1009.0,1040.8 L1013.1,1039.6 L1017.2,1038.4 L1021.3,1037.1 L1025.3,1035.9 L1029.3,1034.6 L1033.3,1033.3 L1037.2,1032.1 L1041.2,1030.8 L1045.1,1029.5 L1048.9,1028.2 L1052.8,1026.9 L1056.6,1025.6 L1060.4,1024.3 L1064.2,1022.9 L1067.9,1021.6 L1071.7,1020.3 L1075.4,1018.9 L1079.1,1017.5 L1082.8,1016.2 L1086.5,1014.8 L1090.2,1013.4 L1093.8,1012.0 L1097.5,1010.5 L1101.1,1009.1 L1104.8,1007.6 L1108.4,1006.2 L1112.0,1004.7 L1115.6,1003.2 L1119.3,1001.7 L1122.9,1000.2 L1126.5,998.6 L1130.1,997.1 L1133.7,995.5 L1137.4,993.9 L1141.0,992.3 L1144.6,990.6 L1148.3,989.0 L1151.9,987.3 L1155.6,985.7 L1159.2,983.9 L1162.9,982.2 L1166.6,980.5 L1170.3,978.7 L1174.0,976.9 L1177.7,975.0 L1181.3,973.2 L1185.0,971.2 L1188.6,969.2 L1192.1,967.2 L1195.7,965.1 L1199.1,962.9 L1202.5,960.6 L1205.9,958.3 L1209.1,955.9 L1212.3,953.4 L1215.4,950.8 L1218.4,948.0 L1221.2,945.2 L1224.0,942.3 L1226.7,939.3 L1229.3,936.2 L1231.8,933.1 L1234.2,929.8 L1236.5,926.5 L1238.7,923.1 L1240.8,919.6 L1242.8,916.1 L1244.7,912.5 L1246.5,908.9 L1248.2,905.1 L1249.8,901.4 L1251.2,897.6 L1252.6,893.7 L1253.9,889.8 L1255.1,885.9 L1256.2,881.9 L1257.2,878.0 L1258.0,873.9 L1258.8,869.9 L1259.5,865.9 L1260.1,861.8 L1260.5,857.7 L1260.9,853.6 L1261.1,849.5 L1261.3,845.5 L1261.4,841.4 L1261.3,837.3 L1261.1,833.2 L1260.9,829.2 L1260.5,825.2 L1260.0,821.2 L1259.5,817.2 L1258.8,813.2 L1258.0,809.3 L1257.1,805.4 L1256.1,801.6 L1255.0,797.8 L1253.8,794.1 L1252.4,790.4 L1251.0,786.7 L1249.5,783.1 L1247.9,779.5 L1246.2,776.0 L1244.4,772.6 L1242.5,769.1 L1240.5,765.8 L1238.4,762.4 L1236.3,759.1 L1234.1,755.9 L1231.8,752.7 L1229.4,749.5 L1227.0,746.4 L1224.4,743.3 L1221.9,740.3 L1219.2,737.3 L1216.5,734.3 L1213.7,731.4 L1210.9,728.5 L1208.0,725.7 L1205.0,722.9 L1202.0,720.1 L1199.0,717.4 L1195.9,714.7 L1192.8,712.1 L1189.6,709.5 L1186.4,706.9 L1183.1,704.4 L1179.8,701.9 L1176.5,699.5 L1173.1,697.1 L1169.8,694.7 L1166.3,692.3 L1162.9,690.0 L1159.5,687.7 L1156.0,685.5 L1152.5,683.3 L1149.0,681.1 L1145.5,679.0 L1142.0,676.9 L1138.4,674.8 L1134.9,672.8 L1131.4,670.8 L1127.8,668.8 L1124.3,666.8 L1120.8,664.9 L1117.3,663.0 L1113.7,661.2 L1110.3,659.4 L1106.8,657.6 L1103.3,655.8 L1099.9,654.1 L1096.4,652.4 L1093.0,650.7 L1089.6,649.1 L1086.3,647.4"/>
<path class="lt" d="M1159.8,780.1 L1161.4,783.4 L1163.1,786.9 L1164.7,790.5 L1166.2,794.1 L1167.7,797.9 L1169.1,801.7 L1170.5,805.6 L1171.7,809.5 L1172.9,813.5 L1174.0,817.5 L1175.1,821.5 L1176.0,825.6 L1176.8,829.7 L1177.5,833.9 L1178.1,838.0 L1178.6,842.1 L1179.0,846.2 L1179.2,850.3 L1179.3,854.4 L1179.3,858.4 L1179.1,862.4 L1178.7,866.4 L1178.2,870.3 L1177.5,874.2 L1176.7,877.9 L1175.7,881.6 L1174.5,885.2 L1173.1,888.8 L1171.5,892.2 L1169.8,895.5 L1167.8,898.7 L1165.7,901.9 L1163.3,904.9 L1160.9,907.8 L1158.2,910.7 L1155.5,913.4 L1152.5,916.1 L1149.5,918.7 L1146.3,921.2 L1143.1,923.7 L1139.7,926.0 L1136.3,928.4 L1132.8,930.7 L1129.2,932.9 L1125.5,935.0 L1121.8,937.2 L1118.1,939.2 L1114.4,941.3 L1110.6,943.3 L1106.8,945.3 L1103.0,947.3 L1099.3,949.2 L1095.5,951.1 L1091.8,953.0 L1088.1,954.9 L1084.5,956.8 L1080.9,958.7 L1077.4,960.6 L1073.9,962.5 L1070.5,964.4 L1067.1,966.2 L1063.8,968.1 L1060.4,969.9 L1057.1,971.7 L1053.7,973.5 L1050.4,975.2 L1047.0,976.8 L1043.5,978.5 L1040.1,980.1 L1036.5,981.6 L1032.9,983.0 L1029.3,984.4 L1025.5,985.8 L1021.7,987.0 L1017.7,988.2 L1013.7,989.3 L1009.5,990.3 L1005.3,991.2 L1001.0,992.1 L996.7,993.0 L992.4,993.9 L988.0,994.8 L983.7,995.7 L979.4,996.6 L975.2,997.5 L971.1,998.5 L967.0,999.6 L963.1,1000.8 L959.2,1002.1 L955.6,1003.5 L952.1,1005.0 L948.8,1006.7 L945.7,1008.5 L942.8,1010.5 L940.2,1012.7 L937.9,1015.1 L936.2,1017.6 L935.7,1020.4 L936.8,1023.3 L939.1,1026.3 L942.3,1029.2 L946.2,1031.9 L950.5,1034.3 L954.9,1036.3 L959.2,1037.8 L963.3,1038.9 L967.4,1039.6 L971.4,1040.0 L975.3,1040.0 L979.2,1039.7 L982.9,1039.1 L986.7,1038.3 L990.4,1037.4 L994.1,1036.2 L997.7,1034.9 L1001.4,1033.6 L1005.1,1032.2 L1008.8,1030.7 L1012.5,1029.3 L1016.2,1027.9 L1020.0,1026.5 L1023.8,1025.1 L1027.6,1023.8 L1031.4,1022.5 L1035.3,1021.2 L1039.2,1020.0 L1043.1,1018.7 L1047.0,1017.5 L1051.0,1016.3 L1054.9,1015.1 L1058.9,1013.9 L1062.8,1012.7 L1066.8,1011.5 L1070.8,1010.3 L1074.8,1009.1 L1078.8,1007.9 L1082.7,1006.7 L1086.7,1005.5 L1090.7,1004.3 L1094.7,1003.0 L1098.6,1001.8 L1102.6,1000.5 L1106.5,999.2 L1110.4,997.9 L1114.4,996.6 L1118.3,995.2 L1122.1,993.8 L1126.0,992.4 L1129.8,991.0 L1133.6,989.5 L1137.4,988.0 L1141.1,986.4 L1144.9,984.8 L1148.5,983.2 L1152.2,981.5 L1155.8,979.7 L1159.4,977.9 L1162.9,976.1 L1166.4,974.2 L1169.9,972.2 L1173.3,970.2 L1176.6,968.1 L1179.9,966.0 L1183.2,963.8 L1186.4,961.5 L1189.5,959.1 L1192.6,956.7 L1195.6,954.2 L1198.6,951.6 L1201.5,949.0 L1204.4,946.2 L1207.1,943.4 L1209.8,940.5 L1212.5,937.5 L1215.0,934.5 L1217.5,931.3 L1219.9,928.1 L1222.3,924.8 L1224.5,921.5 L1226.7,918.0 L1228.8,914.6 L1230.8,911.0 L1232.8,907.5 L1234.6,903.8 L1236.4,900.2 L1238.0,896.4 L1239.6,892.7 L1241.1,888.9 L1242.5,885.1 L1243.8,881.2 L1245.0,877.3 L1246.1,873.4 L1247.1,869.5 L1248.0,865.6 L1248.8,861.6 L1249.4,857.7 L1250.0,853.7 L1250.5,849.7 L1250.8,845.8 L1251.1,841.8 L1251.2,837.8 L1251.2,833.9 L1251.1,830.0 L1250.9,826.0 L1250.6,822.1 L1250.1,818.3 L1249.5,814.4 L1248.8,810.6 L1248.0,806.8 L1247.0,803.1 L1245.9,799.4 L1244.7,795.7 L1243.3,792.1 L1241.9,788.5 L1240.3,785.0 L1238.6,781.5 L1236.8,778.0 L1234.9,774.6 L1232.9,771.2 L1230.8,767.9 L1228.5,764.6 L1226.2,761.4 L1223.8,758.2 L1221.4,755.0 L1218.8,751.9 L1216.2,748.8 L1213.4,745.7 L1210.6,742.7 L1207.8,739.7 L1204.9,736.8 L1201.9,733.9 L1198.8,731.1 L1195.7,728.3 L1192.6,725.5 L1189.3,722.8 L1186.1,720.1 L1182.8,717.5 L1179.5,714.9 L1176.1,712.4 L1172.7,709.8 L1169.2,707.4 L1165.8,704.9 L1162.3,702.6 L1158.8,700.2 L1155.3,697.9 L1151.8,695.7 L1148.2,693.4 L1144.7,691.3 L1141.1,689.1 L1137.6,687.0 L1134.1,685.0 L1130.5,683.0 L1127.0,681.0 L1123.5,679.1 L1120.0,677.2 L1116.6,675.3 L1113.1,673.5 L1109.7,671.8 L1106.3,670.1 L1103.0,668.4 L1099.7,666.7 L1096.4,665.2 L1093.2,663.6 L1090.0,662.1 L1086.9,660.6"/>
<path class="dk" d="M1086.8,607.7 L1090.3,608.6 L1093.9,609.6 L1097.4,610.7 L1101.0,611.8 L1104.6,613.0 L1108.3,614.2 L1111.9,615.4 L1115.6,616.7 L1119.3,618.0 L1123.0,619.4 L1126.7,620.8 L1130.4,622.3 L1134.1,623.8 L1137.8,625.4 L1141.6,627.0 L1145.3,628.6 L1149.0,630.3 L1152.8,632.0 L1156.5,633.8 L1160.2,635.6 L1163.9,637.5 L1167.6,639.4 L1171.3,641.3 L1175.0,643.3 L1178.7,645.3 L1182.3,647.4 L1186.0,649.5 L1189.6,651.6 L1193.2,653.8 L1196.7,656.1 L1200.3,658.3 L1203.8,660.7 L1207.3,663.0 L1210.8,665.4 L1214.2,667.9 L1217.6,670.3 L1220.9,672.9 L1224.3,675.4 L1227.6,678.0 L1230.8,680.6 L1234.0,683.3 L1237.2,686.0 L1240.3,688.8 L1243.3,691.6 L1246.4,694.4 L1249.3,697.3 L1252.2,700.2 L1255.1,703.2 L1257.9,706.1 L1260.6,709.2 L1263.3,712.2 L1265.9,715.3 L1268.5,718.5 L1271.0,721.7 L1273.4,724.9 L1275.8,728.1 L1278.0,731.4 L1280.2,734.7 L1282.4,738.1 L1284.4,741.5 L1286.4,744.9 L1288.3,748.4 L1290.1,751.9 L1291.9,755.5 L1293.5,759.0 L1295.1,762.7 L1296.6,766.3 L1298.0,770.0 L1299.3,773.7 L1300.5,777.5 L1301.6,781.3 L1302.6,785.1 L1303.5,788.9 L1304.4,792.8 L1305.1,796.7 L1305.7,800.6 L1306.3,804.5 L1306.8,808.4 L1307.1,812.4 L1307.4,816.4 L1307.6,820.3 L1307.7,824.3 L1307.7,828.3 L1307.6,832.3 L1307.4,836.3 L1307.1,840.2 L1306.7,844.2 L1306.2,848.2 L1305.7,852.2 L1305.0,856.1 L1304.3,860.0 L1303.4,864.0 L1302.5,867.9 L1301.4,871.7 L1300.3,875.6 L1299.1,879.4 L1297.8,883.2 L1296.4,887.0 L1294.9,890.8 L1293.3,894.5 L1291.6,898.2 L1289.8,901.8 L1287.9,905.4 L1285.9,909.0 L1283.9,912.5 L1281.8,916.0 L1279.6,919.4 L1277.3,922.8 L1274.9,926.2 L1272.5,929.5 L1270.0,932.8 L1267.5,936.1 L1264.8,939.3 L1262.1,942.5 L1259.4,945.6 L1256.6,948.7 L1253.8,951.7 L1250.9,954.8 L1247.9,957.7 L1244.9,960.6 L1241.9,963.5 L1238.8,966.4 L1235.7,969.1 L1232.6,971.9 L1229.4,974.6 L1226.2,977.3 L1223.0,979.9 L1219.7,982.5 L1216.5,985.0 L1213.2,987.5 L1209.9,989.9 L1206.6,992.3 L1203.2,994.6 L1199.9,996.9 L1196.6,999.2 L1193.2,1001.4 L1189.9,1003.5 L1186.6,1005.6 L1183.2,1007.7 L1179.9,1009.7"/>
<path class="lt" d="M1341.0,857.0 L1341.5,861.7 L1341.9,866.4 L1341.9,871.0 L1341.8,875.5 L1341.4,880.0 L1340.8,884.4 L1340.0,888.7 L1338.9,893.0 L1337.6,897.2 L1336.1,901.3 L1334.3,905.4 L1332.3,909.4 L1330.1,913.3 L1327.7,917.2 L1325.0,921.0"/>
<path class="ld" d="M1092.1,147.7 L1087.1,147.4 L1082.2,147.3 L1077.4,147.3 L1072.8,147.4 L1068.3,147.8 L1063.9,148.3 L1059.6,148.9 L1055.4,149.7 L1051.3,150.6 L1047.3,151.7 L1043.5,152.9 L1039.7,154.2 L1036.0,155.7 L1032.5,157.3 L1029.0,159.0 L1025.6,160.9 L1022.3,162.8 L1019.1,164.9 L1016.0,167.1 L1013.0,169.4 L1010.0,171.8 L1007.2,174.3 L1004.4,176.9 L1001.7,179.5 L999.1,182.3 L996.5,185.2 L994.1,188.1 L991.6,191.1 L989.3,194.2 L987.0,197.4 L984.8,200.7 L982.7,204.0 L980.6,207.3 L978.6,210.8 L976.6,214.3 L974.7,217.8 L972.8,221.4 L971.0,225.0 L969.3,228.7 L967.5,232.4 L965.9,236.2 L964.2,239.9 L962.7,243.7 L961.1,247.6 L959.6,251.4 L958.1,255.3 L956.7,259.2 L955.3,263.1 L953.9,267.1 L952.6,271.0 L951.3,275.0 L950.0,278.9 L948.7,282.9 L947.5,286.9 L946.3,290.9 L945.1,294.9 L944.0,298.9 L942.9,302.9 L941.8,306.8 L940.7,310.8 L939.6,314.8 L938.6,318.8 L937.5,322.8 L936.5,326.8 L935.5,330.7 L934.5,334.7 L933.5,338.6 L932.6,342.5 L931.6,346.5 L930.7,350.3 L929.7,354.2 L928.8,358.1 L927.9,361.9 L927.0,365.7 L926.0,369.5 L925.1,373.2 L924.2,376.9 L923.3,380.6 L922.4,384.3"/>
<path class="ld" d="M504.6,472.9 L508.6,474.7 L512.5,476.6 L516.4,478.6 L520.1,480.7 L523.7,482.9 L527.2,485.2 L530.6,487.6 L534.0,490.1 L537.2,492.7 L540.3,495.4 L543.3,498.1 L546.2,501.0 L549.1,503.9 L551.8,507.0 L554.4,510.1 L556.9,513.3 L559.3,516.5 L561.6,519.8 L563.9,523.2 L566.0,526.7 L568.0,530.2 L569.9,533.8 L571.7,537.4 L573.4,541.1 L575.1,544.8 L576.6,548.6 L578.0,552.4 L579.3,556.3 L580.5,560.2 L581.6,564.1 L582.7,568.1 L583.6,572.1 L584.4,576.1 L585.1,580.1 L585.7,584.2 L586.3,588.3 L586.7,592.4 L587.0,596.5 L587.2,600.6 L587.3,604.7 L587.4,608.9 L587.3,613.0 L587.1,617.1 L586.8,621.3 L586.5,625.4 L586.0,629.5 L585.4,633.6 L584.8,637.7 L584.0,641.7 L583.1,645.8 L582.1,649.8 L581.1,653.8 L579.9,657.7 L578.6,661.6 L577.3,665.5 L575.8,669.4 L574.3,673.2 L572.6,676.9"/>
<path class="ld" d="M1255.2,433.1 L1250.5,434.1 L1246.0,435.2 L1241.6,436.5 L1237.4,438.0 L1233.3,439.7 L1229.3,441.6 L1225.6,443.6 L1221.9,445.7 L1218.4,448.0 L1215.1,450.5 L1211.9,453.1 L1208.9,455.8 L1206.0,458.7 L1203.2,461.6 L1200.6,464.7 L1198.2,467.9 L1195.9,471.2 L1193.8,474.6 L1191.8,478.1 L1189.9,481.6 L1188.2,485.3 L1186.7,489.0 L1185.3,492.8 L1184.1,496.6 L1183.0,500.5 L1182.0,504.4 L1181.2,508.4 L1180.6,512.4 L1180.1,516.5 L1179.7,520.5 L1179.5,524.6 L1179.5,528.7 L1179.6,532.8 L1179.8,536.9 L1180.2,541.0 L1180.7,545.1 L1181.4,549.1 L1182.3,553.2 L1183.3,557.2 L1184.4,561.1 L1185.7,565.1 L1187.1,569.0 L1188.7,572.8 L1190.4,576.5 L1192.3,580.2 L1194.3,583.9 L1196.5,587.4 L1198.8,590.9 L1201.3,594.2 L1203.9,597.5 L1206.7,600.7 L1209.6,603.7 L1212.7,606.7 L1215.9,609.5 L1219.2,612.2 L1222.8,614.8 L1226.4,617.2 L1230.2,619.5"/>
<path class="ld" d="M1393.6,561.0 L1393.2,565.7 L1392.7,570.3 L1392.1,574.7 L1391.3,579.1 L1390.3,583.3 L1389.3,587.5 L1388.0,591.5 L1386.6,595.5 L1385.1,599.3 L1383.5,603.0 L1381.7,606.7 L1379.8,610.2 L1377.8,613.7 L1375.7,617.0 L1373.4,620.3 L1371.1,623.5 L1368.6,626.5 L1366.1,629.5 L1363.4,632.4 L1360.7,635.3 L1357.8,638.0 L1354.9,640.7 L1351.9,643.3 L1348.8,645.8 L1345.7,648.3 L1342.5,650.7 L1339.2,653.0 L1335.9,655.3 L1332.5,657.6 L1329.1,659.8 L1325.6,661.9 L1322.1,664.0 L1318.5,666.0 L1315.0,668.1 L1311.4,670.0 L1307.7,672.0 L1304.1,673.9 L1300.4,675.8 L1296.7,677.7 L1293.1,679.5 L1289.4,681.3 L1285.7,683.2 L1282.0,685.0 L1278.3,686.8 L1274.6,688.7 L1270.9,690.5 L1267.2,692.4 L1263.5,694.2 L1259.9,696.1 L1256.2,698.0 L1252.6,699.9 L1249.0,701.9 L1245.5,703.9 L1242.0,706.0 L1238.5,708.0 L1235.0,710.2 L1231.6,712.4 L1228.2,714.6 L1224.9,716.9 L1221.6,719.2 L1218.4,721.7 L1215.2,724.1 L1212.1,726.7 L1209.0,729.3 L1205.9,732.0 L1202.9,734.7 L1200.0,737.5 L1197.1,740.3 L1194.2,743.2 L1191.4,746.2 L1188.7,749.2 L1185.9,752.3 L1183.3,755.4 L1180.6,758.6 L1178.1,761.9 L1175.5,765.2 L1173.0,768.6 L1170.6,772.0 L1168.2,775.5 L1165.8,779.1 L1163.5,782.7"/>
<path class="ld" d="M1547.4,618.5 L1542.9,616.6 L1538.5,615.0 L1534.2,613.8 L1529.9,612.8 L1525.7,612.2 L1521.6,611.8 L1517.5,611.7 L1513.5,611.8 L1509.5,612.2 L1505.6,612.9 L1501.7,613.7 L1497.9,614.7 L1494.1,616.0 L1490.4,617.3 L1486.7,618.9 L1483.1,620.6 L1479.4,622.4 L1475.8,624.4 L1472.3,626.4 L1468.7,628.6 L1465.2,630.8 L1461.7,633.0 L1458.2,635.4 L1454.7,637.7 L1451.2,640.1 L1447.7,642.5 L1444.3,644.8 L1440.8,647.2 L1437.3,649.5 L1433.8,651.7 L1430.3,653.9 L1426.8,656.0 L1423.3,658.0 L1419.8,659.9 L1416.2,661.7 L1412.6,663.4 L1409.0,664.9 L1405.4,666.2 L1401.7,667.4 L1398.0,668.4 L1394.2,669.1 L1390.4,669.7"/>
<path class="ld" d="M1639.5,814.4 L1639.1,809.8 L1638.4,805.2 L1637.6,800.7 L1636.6,796.3 L1635.5,792.1 L1634.2,788.0 L1632.7,783.9 L1631.1,780.0 L1629.3,776.2 L1627.4,772.6 L1625.3,769.0 L1623.1,765.6 L1620.8,762.3 L1618.4,759.0 L1615.8,756.0 L1613.1,753.0 L1610.3,750.2 L1607.4,747.4 L1604.5,744.8 L1601.4,742.4 L1598.2,740.0 L1594.9,737.8 L1591.6,735.7 L1588.1,733.7 L1584.6,731.8 L1581.1,730.1 L1577.5,728.5 L1573.8,727.0 L1570.0,725.7 L1566.3,724.5 L1562.4,723.4 L1558.6,722.4 L1554.7,721.6 L1550.8,720.9 L1546.8,720.3 L1542.8,719.9 L1538.9,719.6 L1534.9,719.4 L1530.9,719.4 L1526.9,719.5 L1522.9,719.8 L1518.9,720.1 L1515.0,720.7 L1511.0,721.3 L1507.1,722.1 L1503.2,723.0 L1499.4,724.1 L1495.5,725.3 L1491.7,726.6 L1488.0,728.1 L1484.3,729.6 L1480.6,731.3 L1476.9,733.0 L1473.2,734.8 L1469.6,736.7 L1466.0,738.7 L1462.3,740.6 L1458.7,742.7 L1455.1,744.7 L1451.6,746.8 L1448.0,748.9 L1444.4,751.0 L1440.8,753.0 L1437.2,755.1 L1433.6,757.1 L1430.0,759.1 L1426.3,761.0 L1422.7,762.9 L1419.0,764.7 L1415.4,766.4 L1411.6,768.1 L1407.9,769.6 L1404.1,771.1 L1400.4,772.4 L1396.5,773.6 L1392.7,774.7 L1388.8,775.7 L1384.9,776.7 L1381.0,777.5 L1377.0,778.3 L1373.1,778.9 L1369.1,779.6 L1365.1,780.1 L1361.0,780.6 L1357.0,781.0 L1352.9,781.4 L1348.8,781.7 L1344.7,782.0 L1340.6,782.2 L1336.4,782.5 L1332.3,782.6 L1328.1,782.8 L1323.9,782.9 L1319.7,783.1"/>
<path class="ld" d="M206.2,825.5 L210.1,825.1 L214.1,824.7 L218.1,824.3 L222.1,823.9 L226.1,823.6 L230.1,823.2 L234.0,822.9 L238.0,822.5 L242.0,822.2 L246.1,821.9 L250.1,821.7 L254.1,821.4 L258.1,821.1 L262.1,820.9 L266.2,820.7 L270.2,820.5 L274.2,820.3 L278.3,820.1 L282.3,819.9 L286.3,819.8 L290.4,819.7 L294.4,819.5 L298.5,819.4 L302.5,819.4 L306.6,819.3 L310.6,819.2 L314.7,819.2 L318.7,819.2 L322.8,819.2 L326.9,819.2 L330.9,819.2 L335.0,819.3 L339.0,819.3 L343.1,819.4 L347.1,819.5 L351.2,819.6 L355.3,819.8 L359.3,819.9 L363.4,820.1 L367.4,820.3 L371.5,820.5 L375.6,820.7 L379.6,821.0 L383.7,821.3 L387.7,821.5 L391.8,821.9 L395.8,822.2 L399.9,822.5 L403.9,822.9 L408.0,823.3 L412.0,823.7 L416.0,824.1 L420.1,824.5 L424.1,825.0 L428.1,825.5 L432.1,826.0 L436.2,826.5 L440.2,827.1 L444.2,827.6 L448.2,828.2 L452.2,828.9 L456.2,829.5 L460.2,830.1 L464.2,830.8 L468.2,831.5 L472.2,832.2 L476.2,833.0 L480.1,833.8 L484.1,834.5 L488.1,835.4 L492.0,836.2 L496.0,837.1 L499.9,837.9 L503.8,838.8 L507.8,839.8 L511.7,840.7 L515.6,841.7 L519.5,842.7 L523.4,843.7 L527.3,844.8 L531.2,845.9 L535.1,847.0 L539.0,848.1 L542.8,849.2 L546.7,850.4 L550.6,851.6 L554.4,852.8 L558.2,854.1 L562.1,855.4 L565.9,856.7 L569.7,858.0 L573.5,859.3 L577.3,860.7 L581.0,862.1 L584.8,863.6 L588.6,865.0 L592.3,866.5 L596.1,868.0 L599.8,869.5 L603.5,871.1 L607.2,872.7 L610.9,874.3 L614.6,876.0 L618.3,877.7 L621.9,879.4 L625.6,881.1 L629.2,882.9 L632.9,884.7 L636.5,886.5 L640.1,888.3 L643.7,890.2 L647.3,892.1 L650.8,894.0 L654.4,896.0 L657.9,898.0 L661.4,900.0 L665.0,902.1"/>
<path class="ld" d="M453.1,1157.1 L456.0,1154.2 L458.9,1151.4 L461.7,1148.5 L464.6,1145.6 L467.6,1142.7 L470.5,1139.9 L473.4,1137.0 L476.4,1134.2 L479.4,1131.4 L482.4,1128.6 L485.4,1125.8 L488.4,1123.1 L491.5,1120.3 L494.6,1117.6 L497.7,1114.9 L500.8,1112.3 L503.9,1109.6 L507.1,1107.0 L510.2,1104.4 L513.4,1101.8 L516.6,1099.3 L519.9,1096.8 L523.1,1094.3 L526.4,1091.9 L529.7,1089.5 L533.0,1087.1 L536.4,1084.8 L539.7,1082.5 L543.1,1080.2 L546.5,1078.0 L550.0,1075.8 L553.4,1073.6 L556.9,1071.5 L560.4,1069.5 L563.9,1067.5 L567.5,1065.5 L571.1,1063.6 L574.7,1061.7 L578.3,1059.9 L582.0,1058.1 L585.7,1056.4 L589.4,1054.7 L593.1,1053.1 L596.9,1051.5 L600.7,1050.0 L604.5,1048.5 L608.4,1047.2 L612.2,1045.8 L616.1,1044.5 L620.1,1043.3 L624.0,1042.2 L628.0,1041.1 L632.1,1040.1 L636.1,1039.1 L640.2,1038.2"/>
<path class="ld" d="M719.5,1332.5 L724.1,1331.2 L728.5,1329.8 L732.7,1328.2 L736.9,1326.5 L740.8,1324.7 L744.7,1322.8 L748.4,1320.8 L752.0,1318.7 L755.5,1316.5 L758.8,1314.2 L762.0,1311.8 L765.1,1309.4 L768.1,1306.8 L771.0,1304.1 L773.8,1301.4 L776.4,1298.5 L779.0,1295.6 L781.5,1292.6 L783.8,1289.5 L786.1,1286.4 L788.3,1283.2 L790.4,1279.9 L792.4,1276.6 L794.3,1273.2 L796.2,1269.7 L797.9,1266.2 L799.6,1262.6 L801.3,1259.0 L802.8,1255.4 L804.3,1251.6 L805.8,1247.9 L807.2,1244.1 L808.5,1240.3 L809.8,1236.4 L811.0,1232.5 L812.2,1228.6 L813.3,1224.6 L814.4,1220.6 L815.4,1216.6 L816.5,1212.6 L817.4,1208.5 L818.4,1204.5 L819.3,1200.4 L820.2,1196.3 L821.1,1192.2 L822.0,1188.1 L822.8,1184.0 L823.6,1179.9 L824.4,1175.7 L825.2,1171.6 L826.0,1167.5 L826.8,1163.3 L827.6,1159.2 L828.4,1155.1 L829.1,1150.9 L829.9,1146.8 L830.7,1142.7 L831.5,1138.6 L832.3,1134.5 L833.1,1130.4 L834.0,1126.3 L834.8,1122.3 L835.7,1118.2 L836.6,1114.2 L837.5,1110.2 L838.4,1106.3 L839.4,1102.3 L840.4,1098.4 L841.4,1094.5 L842.5,1090.6 L843.6,1086.8 L844.8,1083.0 L846.0,1079.2 L847.2,1075.4 L848.5,1071.7 L849.8,1068.1 L851.2,1064.4 L852.7,1060.8"/>
<path class="ld" d="M1815.7,1213.3 L1816.2,1218.6 L1816.4,1223.8 L1816.3,1228.6 L1815.9,1233.3 L1815.2,1237.8 L1814.2,1242.0 L1813.0,1246.1 L1811.5,1249.9 L1809.8,1253.5 L1807.9,1256.9 L1805.8,1260.1 L1803.5,1263.1 L1800.9,1265.9 L1798.2,1268.5 L1795.3,1271.0 L1792.3,1273.2 L1789.1,1275.2 L1785.8,1277.1 L1782.4,1278.8 L1778.9,1280.3 L1775.2,1281.6 L1771.5,1282.7 L1767.7,1283.7 L1763.8,1284.5 L1759.8,1285.1 L1755.9,1285.5 L1751.8,1285.8 L1747.8,1286.0 L1743.7,1286.0 L1739.6,1285.8 L1735.5,1285.6 L1731.3,1285.2 L1727.1,1284.8 L1723.0,1284.2 L1718.8,1283.6 L1714.5,1282.9 L1710.3,1282.2 L1706.1,1281.4 L1701.8,1280.6 L1697.6,1279.7 L1693.4,1278.9 L1689.1,1278.0 L1684.9,1277.2 L1680.7,1276.4 L1676.5,1275.6 L1672.3,1274.9 L1668.2,1274.2 L1664.0,1273.5 L1659.9,1273.0 L1655.8,1272.5 L1651.7,1272.2 L1647.7,1271.9 L1643.7,1271.8 L1639.8,1271.8 L1635.8,1271.9 L1632.0,1272.2 L1628.1,1272.7 L1624.3,1273.3 L1620.6,1274.1"/>
<path class="ar" d="M903.0,383.0 L940.0,383.0 L917.0,441.0Z"/>
<path class="ar" d="M1146.0,772.0 L1180.0,792.0 L1136.0,828.0Z"/>
<path class="ar" d="M1331.0,770.0 L1331.0,802.0 L1277.0,787.0Z"/>
<path class="ar" d="M660.0,890.0 L672.0,924.0 L697.0,921.0Z"/>
<path class="ar" d="M635.0,1025.0 L655.0,1057.0 L694.0,1021.0Z"/>
<path class="ar" d="M835.0,1060.0 L872.0,1068.0 L864.0,1010.0Z"/>
<path class="ar" d="M1628.0,1257.0 L1628.0,1291.0 L1568.0,1274.0Z"/>
<text class="lb" x="250" y="298" textLength="50" lengthAdjust="spacingAndGlyphs" font-size="62.1">10</text>
<text class="lb" x="1115" y="177" textLength="56" lengthAdjust="spacingAndGlyphs" font-size="68.2">32</text>
<text class="lb" x="438" y="483" textLength="59" lengthAdjust="spacingAndGlyphs" font-size="68.2">26</text>
<text class="lb" x="1266" y="450" textLength="53" lengthAdjust="spacingAndGlyphs" font-size="68.2">20</text>
<text class="lb" x="1364" y="545" textLength="54" lengthAdjust="spacingAndGlyphs" font-size="63.6">14</text>
<text class="lb" x="1558" y="655" textLength="49" lengthAdjust="spacingAndGlyphs" font-size="68.2">16</text>
<text class="lb" x="1623" y="882" textLength="59" lengthAdjust="spacingAndGlyphs" font-size="68.2">24</text>
<text class="lb" x="143" y="865" textLength="57" lengthAdjust="spacingAndGlyphs" font-size="74.2">30</text>
<text class="lb" x="378" y="1223" textLength="55" lengthAdjust="spacingAndGlyphs" font-size="68.2">32</text>
<text class="lb" x="638" y="1360" textLength="57" lengthAdjust="spacingAndGlyphs" font-size="65.2">40</text>
<text class="lb" x="1790" y="1204" textLength="49" lengthAdjust="spacingAndGlyphs" font-size="65.2">12</text>
<line class="dk" x1="246" y1="307" x2="304" y2="307"/>
<text x="853" y="1941" textLength="235" lengthAdjust="spacingAndGlyphs" font-size="66" font-family="Liberation Sans, sans-serif" fill="#000" stroke="#000" stroke-width="1.2">Figure 1</text>
</svg>
</body></html>
